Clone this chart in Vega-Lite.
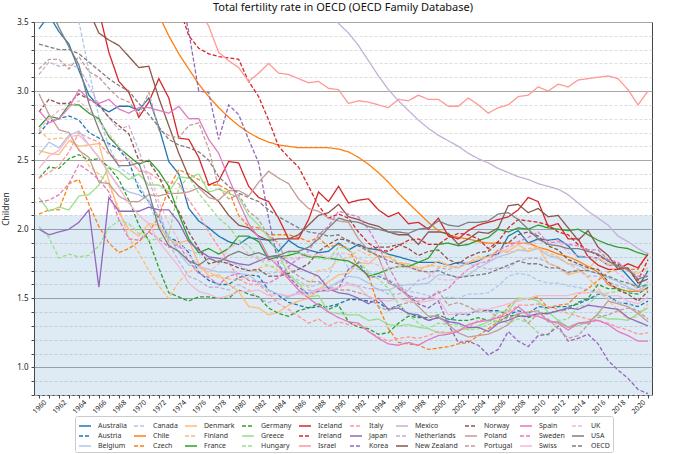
{
  "$schema": "https://vega.github.io/schema/vega-lite/v6.json",
  "width": 618,
  "height": 373,
  "autosize": {"type": "none"},
  "padding": {"left": 34, "top": 22, "right": 28, "bottom": 59},
  "title": {"text": "Total fertility rate in OECD (OECD Family Database)", "fontSize": 11, "font": "Noto Sans", "fontWeight": "normal", "color": "#111", "offset": 5},
  "config": {
    "font": "Noto Sans",
    "view": {"stroke": "#444", "strokeWidth": 1},
    "axis": {"labelFont": "Noto Sans", "titleFont": "Noto Sans", "labelColor": "#222", "titleColor": "#222", "tickColor": "#444", "domainColor": "#444"}
  },
  "data": {"values": [
    {"c":"Australia","t":1960,"v":3.45},{"c":"Australia","t":1961,"v":3.55},{"c":"Australia","t":1962,"v":3.43},{"c":"Australia","t":1963,"v":3.34},{"c":"Australia","t":1964,"v":3.15},{"c":"Australia","t":1965,"v":2.97},{"c":"Australia","t":1966,"v":2.89},{"c":"Australia","t":1967,"v":2.85},{"c":"Australia","t":1968,"v":2.89},{"c":"Australia","t":1969,"v":2.89},
    {"c":"Australia","t":1970,"v":2.86},{"c":"Australia","t":1971,"v":2.95},{"c":"Australia","t":1972,"v":2.74},{"c":"Australia","t":1973,"v":2.49},{"c":"Australia","t":1974,"v":2.40},{"c":"Australia","t":1975,"v":2.15},{"c":"Australia","t":1976,"v":2.06},{"c":"Australia","t":1977,"v":2.01},{"c":"Australia","t":1978,"v":1.95},{"c":"Australia","t":1979,"v":1.91},
    {"c":"Australia","t":1980,"v":1.89},{"c":"Australia","t":1981,"v":1.94},{"c":"Australia","t":1982,"v":1.93},{"c":"Australia","t":1983,"v":1.92},{"c":"Australia","t":1984,"v":1.84},{"c":"Australia","t":1985,"v":1.92},{"c":"Australia","t":1986,"v":1.87},{"c":"Australia","t":1987,"v":1.85},{"c":"Australia","t":1988,"v":1.83},{"c":"Australia","t":1989,"v":1.84},
    {"c":"Australia","t":1990,"v":1.90},{"c":"Australia","t":1991,"v":1.85},{"c":"Australia","t":1992,"v":1.89},{"c":"Australia","t":1993,"v":1.86},{"c":"Australia","t":1994,"v":1.85},{"c":"Australia","t":1995,"v":1.82},{"c":"Australia","t":1996,"v":1.80},{"c":"Australia","t":1997,"v":1.78},{"c":"Australia","t":1998,"v":1.76},{"c":"Australia","t":1999,"v":1.76},
    {"c":"Australia","t":2000,"v":1.76},{"c":"Australia","t":2001,"v":1.74},{"c":"Australia","t":2002,"v":1.76},{"c":"Australia","t":2003,"v":1.75},{"c":"Australia","t":2004,"v":1.77},{"c":"Australia","t":2005,"v":1.81},{"c":"Australia","t":2006,"v":1.82},{"c":"Australia","t":2007,"v":1.95},{"c":"Australia","t":2008,"v":1.99},{"c":"Australia","t":2009,"v":1.90},
    {"c":"Australia","t":2010,"v":1.93},{"c":"Australia","t":2011,"v":1.92},{"c":"Australia","t":2012,"v":1.93},{"c":"Australia","t":2013,"v":1.88},{"c":"Australia","t":2014,"v":1.80},{"c":"Australia","t":2015,"v":1.80},{"c":"Australia","t":2016,"v":1.79},{"c":"Australia","t":2017,"v":1.74},{"c":"Australia","t":2018,"v":1.74},{"c":"Australia","t":2019,"v":1.66},
    {"c":"Australia","t":2020,"v":1.58},{"c":"Australia","t":2021,"v":1.70},

    {"c":"Austria","t":1960,"v":2.69},{"c":"Austria","t":1961,"v":2.78},{"c":"Austria","t":1962,"v":2.80},{"c":"Austria","t":1963,"v":2.82},{"c":"Austria","t":1964,"v":2.79},{"c":"Austria","t":1965,"v":2.70},{"c":"Austria","t":1966,"v":2.66},{"c":"Austria","t":1967,"v":2.62},{"c":"Austria","t":1968,"v":2.58},{"c":"Austria","t":1969,"v":2.49},
    {"c":"Austria","t":1970,"v":2.29},{"c":"Austria","t":1971,"v":2.20},{"c":"Austria","t":1972,"v":2.08},{"c":"Austria","t":1973,"v":1.94},{"c":"Austria","t":1974,"v":1.91},{"c":"Austria","t":1975,"v":1.83},{"c":"Austria","t":1976,"v":1.69},{"c":"Austria","t":1977,"v":1.63},{"c":"Austria","t":1978,"v":1.60},{"c":"Austria","t":1979,"v":1.60},
    {"c":"Austria","t":1980,"v":1.65},{"c":"Austria","t":1981,"v":1.67},{"c":"Austria","t":1982,"v":1.66},{"c":"Austria","t":1983,"v":1.56},{"c":"Austria","t":1984,"v":1.52},{"c":"Austria","t":1985,"v":1.47},{"c":"Austria","t":1986,"v":1.45},{"c":"Austria","t":1987,"v":1.43},{"c":"Austria","t":1988,"v":1.44},{"c":"Austria","t":1989,"v":1.44},
    {"c":"Austria","t":1990,"v":1.46},{"c":"Austria","t":1991,"v":1.49},{"c":"Austria","t":1992,"v":1.49},{"c":"Austria","t":1993,"v":1.48},{"c":"Austria","t":1994,"v":1.47},{"c":"Austria","t":1995,"v":1.42},{"c":"Austria","t":1996,"v":1.45},{"c":"Austria","t":1997,"v":1.39},{"c":"Austria","t":1998,"v":1.37},{"c":"Austria","t":1999,"v":1.34},
    {"c":"Austria","t":2000,"v":1.36},{"c":"Austria","t":2001,"v":1.33},{"c":"Austria","t":2002,"v":1.39},{"c":"Austria","t":2003,"v":1.38},{"c":"Austria","t":2004,"v":1.42},{"c":"Austria","t":2005,"v":1.41},{"c":"Austria","t":2006,"v":1.41},{"c":"Austria","t":2007,"v":1.38},{"c":"Austria","t":2008,"v":1.41},{"c":"Austria","t":2009,"v":1.39},
    {"c":"Austria","t":2010,"v":1.44},{"c":"Austria","t":2011,"v":1.43},{"c":"Austria","t":2012,"v":1.44},{"c":"Austria","t":2013,"v":1.44},{"c":"Austria","t":2014,"v":1.46},{"c":"Austria","t":2015,"v":1.49},{"c":"Austria","t":2016,"v":1.53},{"c":"Austria","t":2017,"v":1.52},{"c":"Austria","t":2018,"v":1.47},{"c":"Austria","t":2019,"v":1.46},
    {"c":"Austria","t":2020,"v":1.44},{"c":"Austria","t":2021,"v":1.48},

    {"c":"Belgium","t":1960,"v":2.54},{"c":"Belgium","t":1961,"v":2.63},{"c":"Belgium","t":1962,"v":2.59},{"c":"Belgium","t":1963,"v":2.68},{"c":"Belgium","t":1964,"v":2.71},{"c":"Belgium","t":1965,"v":2.61},{"c":"Belgium","t":1966,"v":2.52},{"c":"Belgium","t":1967,"v":2.41},{"c":"Belgium","t":1968,"v":2.31},{"c":"Belgium","t":1969,"v":2.27},
    {"c":"Belgium","t":1970,"v":2.25},{"c":"Belgium","t":1971,"v":2.21},{"c":"Belgium","t":1972,"v":2.09},{"c":"Belgium","t":1973,"v":1.95},{"c":"Belgium","t":1974,"v":1.83},{"c":"Belgium","t":1975,"v":1.74},{"c":"Belgium","t":1976,"v":1.73},{"c":"Belgium","t":1977,"v":1.71},{"c":"Belgium","t":1978,"v":1.69},{"c":"Belgium","t":1979,"v":1.69},
    {"c":"Belgium","t":1980,"v":1.68},{"c":"Belgium","t":1981,"v":1.67},{"c":"Belgium","t":1982,"v":1.61},{"c":"Belgium","t":1983,"v":1.56},{"c":"Belgium","t":1984,"v":1.53},{"c":"Belgium","t":1985,"v":1.51},{"c":"Belgium","t":1986,"v":1.54},{"c":"Belgium","t":1987,"v":1.54},{"c":"Belgium","t":1988,"v":1.57},{"c":"Belgium","t":1989,"v":1.58},
    {"c":"Belgium","t":1990,"v":1.62},{"c":"Belgium","t":1991,"v":1.66},{"c":"Belgium","t":1992,"v":1.65},{"c":"Belgium","t":1993,"v":1.61},{"c":"Belgium","t":1994,"v":1.56},{"c":"Belgium","t":1995,"v":1.56},{"c":"Belgium","t":1996,"v":1.59},{"c":"Belgium","t":1997,"v":1.60},{"c":"Belgium","t":1998,"v":1.60},{"c":"Belgium","t":1999,"v":1.61},
    {"c":"Belgium","t":2000,"v":1.67},{"c":"Belgium","t":2001,"v":1.67},{"c":"Belgium","t":2002,"v":1.65},{"c":"Belgium","t":2003,"v":1.67},{"c":"Belgium","t":2004,"v":1.72},{"c":"Belgium","t":2005,"v":1.76},{"c":"Belgium","t":2006,"v":1.80},{"c":"Belgium","t":2007,"v":1.82},{"c":"Belgium","t":2008,"v":1.85},{"c":"Belgium","t":2009,"v":1.84},
    {"c":"Belgium","t":2010,"v":1.86},{"c":"Belgium","t":2011,"v":1.81},{"c":"Belgium","t":2012,"v":1.79},{"c":"Belgium","t":2013,"v":1.75},{"c":"Belgium","t":2014,"v":1.74},{"c":"Belgium","t":2015,"v":1.70},{"c":"Belgium","t":2016,"v":1.68},{"c":"Belgium","t":2017,"v":1.65},{"c":"Belgium","t":2018,"v":1.62},{"c":"Belgium","t":2019,"v":1.58},
    {"c":"Belgium","t":2020,"v":1.55},{"c":"Belgium","t":2021,"v":1.60},

    {"c":"Canada","t":1960,"v":3.81},{"c":"Canada","t":1961,"v":3.84},{"c":"Canada","t":1962,"v":3.76},{"c":"Canada","t":1963,"v":3.67},{"c":"Canada","t":1964,"v":3.50},{"c":"Canada","t":1965,"v":3.15},{"c":"Canada","t":1966,"v":2.81},{"c":"Canada","t":1967,"v":2.60},{"c":"Canada","t":1968,"v":2.45},{"c":"Canada","t":1969,"v":2.40},
    {"c":"Canada","t":1970,"v":2.33},{"c":"Canada","t":1971,"v":2.19},{"c":"Canada","t":1972,"v":2.02},{"c":"Canada","t":1973,"v":1.93},{"c":"Canada","t":1974,"v":1.87},{"c":"Canada","t":1975,"v":1.85},{"c":"Canada","t":1976,"v":1.82},{"c":"Canada","t":1977,"v":1.80},{"c":"Canada","t":1978,"v":1.76},{"c":"Canada","t":1979,"v":1.76},
    {"c":"Canada","t":1980,"v":1.74},{"c":"Canada","t":1981,"v":1.70},{"c":"Canada","t":1982,"v":1.69},{"c":"Canada","t":1983,"v":1.68},{"c":"Canada","t":1984,"v":1.69},{"c":"Canada","t":1985,"v":1.67},{"c":"Canada","t":1986,"v":1.63},{"c":"Canada","t":1987,"v":1.58},{"c":"Canada","t":1988,"v":1.60},{"c":"Canada","t":1989,"v":1.66},
    {"c":"Canada","t":1990,"v":1.83},{"c":"Canada","t":1991,"v":1.72},{"c":"Canada","t":1992,"v":1.71},{"c":"Canada","t":1993,"v":1.68},{"c":"Canada","t":1994,"v":1.68},{"c":"Canada","t":1995,"v":1.64},{"c":"Canada","t":1996,"v":1.59},{"c":"Canada","t":1997,"v":1.55},{"c":"Canada","t":1998,"v":1.54},{"c":"Canada","t":1999,"v":1.52},
    {"c":"Canada","t":2000,"v":1.49},{"c":"Canada","t":2001,"v":1.51},{"c":"Canada","t":2002,"v":1.50},{"c":"Canada","t":2003,"v":1.53},{"c":"Canada","t":2004,"v":1.53},{"c":"Canada","t":2005,"v":1.54},{"c":"Canada","t":2006,"v":1.59},{"c":"Canada","t":2007,"v":1.66},{"c":"Canada","t":2008,"v":1.68},{"c":"Canada","t":2009,"v":1.67},
    {"c":"Canada","t":2010,"v":1.63},{"c":"Canada","t":2011,"v":1.61},{"c":"Canada","t":2012,"v":1.61},{"c":"Canada","t":2013,"v":1.59},{"c":"Canada","t":2014,"v":1.58},{"c":"Canada","t":2015,"v":1.56},{"c":"Canada","t":2016,"v":1.54},{"c":"Canada","t":2017,"v":1.50},{"c":"Canada","t":2018,"v":1.47},{"c":"Canada","t":2019,"v":1.47},
    {"c":"Canada","t":2020,"v":1.40},{"c":"Canada","t":2021,"v":1.43},

    {"c":"Chile","t":1965,"v":4.96},{"c":"Chile","t":1966,"v":4.75},{"c":"Chile","t":1967,"v":4.52},{"c":"Chile","t":1968,"v":4.29},{"c":"Chile","t":1969,"v":4.07},
    {"c":"Chile","t":1970,"v":3.88},{"c":"Chile","t":1971,"v":3.71},{"c":"Chile","t":1972,"v":3.55},{"c":"Chile","t":1973,"v":3.40},{"c":"Chile","t":1974,"v":3.27},{"c":"Chile","t":1975,"v":3.16},{"c":"Chile","t":1976,"v":3.05},{"c":"Chile","t":1977,"v":2.96},{"c":"Chile","t":1978,"v":2.88},{"c":"Chile","t":1979,"v":2.81},
    {"c":"Chile","t":1980,"v":2.75},{"c":"Chile","t":1981,"v":2.70},{"c":"Chile","t":1982,"v":2.66},{"c":"Chile","t":1983,"v":2.63},{"c":"Chile","t":1984,"v":2.61},{"c":"Chile","t":1985,"v":2.60},{"c":"Chile","t":1986,"v":2.59},{"c":"Chile","t":1987,"v":2.59},{"c":"Chile","t":1988,"v":2.59},{"c":"Chile","t":1989,"v":2.59},
    {"c":"Chile","t":1990,"v":2.58},{"c":"Chile","t":1991,"v":2.56},{"c":"Chile","t":1992,"v":2.52},{"c":"Chile","t":1993,"v":2.47},{"c":"Chile","t":1994,"v":2.41},{"c":"Chile","t":1995,"v":2.34},{"c":"Chile","t":1996,"v":2.26},{"c":"Chile","t":1997,"v":2.19},{"c":"Chile","t":1998,"v":2.12},{"c":"Chile","t":1999,"v":2.05},
    {"c":"Chile","t":2000,"v":1.99},{"c":"Chile","t":2001,"v":1.96},{"c":"Chile","t":2002,"v":1.94},{"c":"Chile","t":2003,"v":1.93},{"c":"Chile","t":2004,"v":1.91},{"c":"Chile","t":2005,"v":1.90},{"c":"Chile","t":2006,"v":1.90},{"c":"Chile","t":2007,"v":1.90},{"c":"Chile","t":2008,"v":1.90},{"c":"Chile","t":2009,"v":1.90},
    {"c":"Chile","t":2010,"v":1.87},{"c":"Chile","t":2011,"v":1.85},{"c":"Chile","t":2012,"v":1.82},{"c":"Chile","t":2013,"v":1.80},{"c":"Chile","t":2014,"v":1.77},{"c":"Chile","t":2015,"v":1.73},{"c":"Chile","t":2016,"v":1.69},{"c":"Chile","t":2017,"v":1.60},{"c":"Chile","t":2018,"v":1.57},{"c":"Chile","t":2019,"v":1.55},
    {"c":"Chile","t":2020,"v":1.55},{"c":"Chile","t":2021,"v":1.57},

    {"c":"Czech","t":1960,"v":2.11},{"c":"Czech","t":1961,"v":2.14},{"c":"Czech","t":1962,"v":2.14},{"c":"Czech","t":1963,"v":2.33},{"c":"Czech","t":1964,"v":2.36},{"c":"Czech","t":1965,"v":2.18},{"c":"Czech","t":1966,"v":2.02},{"c":"Czech","t":1967,"v":1.90},{"c":"Czech","t":1968,"v":1.83},{"c":"Czech","t":1969,"v":1.86},
    {"c":"Czech","t":1970,"v":1.91},{"c":"Czech","t":1971,"v":1.98},{"c":"Czech","t":1972,"v":2.09},{"c":"Czech","t":1973,"v":2.30},{"c":"Czech","t":1974,"v":2.43},{"c":"Czech","t":1975,"v":2.40},{"c":"Czech","t":1976,"v":2.36},{"c":"Czech","t":1977,"v":2.32},{"c":"Czech","t":1978,"v":2.32},{"c":"Czech","t":1979,"v":2.28},
    {"c":"Czech","t":1980,"v":2.10},{"c":"Czech","t":1981,"v":2.02},{"c":"Czech","t":1982,"v":2.01},{"c":"Czech","t":1983,"v":1.96},{"c":"Czech","t":1984,"v":1.96},{"c":"Czech","t":1985,"v":1.96},{"c":"Czech","t":1986,"v":1.94},{"c":"Czech","t":1987,"v":1.91},{"c":"Czech","t":1988,"v":1.94},{"c":"Czech","t":1989,"v":1.87},
    {"c":"Czech","t":1990,"v":1.89},{"c":"Czech","t":1991,"v":1.86},{"c":"Czech","t":1992,"v":1.72},{"c":"Czech","t":1993,"v":1.67},{"c":"Czech","t":1994,"v":1.44},{"c":"Czech","t":1995,"v":1.28},{"c":"Czech","t":1996,"v":1.18},{"c":"Czech","t":1997,"v":1.17},{"c":"Czech","t":1998,"v":1.16},{"c":"Czech","t":1999,"v":1.13},
    {"c":"Czech","t":2000,"v":1.14},{"c":"Czech","t":2001,"v":1.15},{"c":"Czech","t":2002,"v":1.17},{"c":"Czech","t":2003,"v":1.18},{"c":"Czech","t":2004,"v":1.23},{"c":"Czech","t":2005,"v":1.28},{"c":"Czech","t":2006,"v":1.33},{"c":"Czech","t":2007,"v":1.44},{"c":"Czech","t":2008,"v":1.50},{"c":"Czech","t":2009,"v":1.49},
    {"c":"Czech","t":2010,"v":1.51},{"c":"Czech","t":2011,"v":1.43},{"c":"Czech","t":2012,"v":1.45},{"c":"Czech","t":2013,"v":1.46},{"c":"Czech","t":2014,"v":1.53},{"c":"Czech","t":2015,"v":1.57},{"c":"Czech","t":2016,"v":1.63},{"c":"Czech","t":2017,"v":1.69},{"c":"Czech","t":2018,"v":1.71},{"c":"Czech","t":2019,"v":1.71},
    {"c":"Czech","t":2020,"v":1.71},{"c":"Czech","t":2021,"v":1.83},

    {"c":"Denmark","t":1960,"v":2.57},{"c":"Denmark","t":1961,"v":2.55},{"c":"Denmark","t":1962,"v":2.54},{"c":"Denmark","t":1963,"v":2.64},{"c":"Denmark","t":1964,"v":2.60},{"c":"Denmark","t":1965,"v":2.61},{"c":"Denmark","t":1966,"v":2.62},{"c":"Denmark","t":1967,"v":2.35},{"c":"Denmark","t":1968,"v":2.12},{"c":"Denmark","t":1969,"v":2.00},
    {"c":"Denmark","t":1970,"v":1.95},{"c":"Denmark","t":1971,"v":2.04},{"c":"Denmark","t":1972,"v":2.03},{"c":"Denmark","t":1973,"v":1.92},{"c":"Denmark","t":1974,"v":1.90},{"c":"Denmark","t":1975,"v":1.92},{"c":"Denmark","t":1976,"v":1.75},{"c":"Denmark","t":1977,"v":1.66},{"c":"Denmark","t":1978,"v":1.67},{"c":"Denmark","t":1979,"v":1.60},
    {"c":"Denmark","t":1980,"v":1.55},{"c":"Denmark","t":1981,"v":1.44},{"c":"Denmark","t":1982,"v":1.43},{"c":"Denmark","t":1983,"v":1.38},{"c":"Denmark","t":1984,"v":1.40},{"c":"Denmark","t":1985,"v":1.45},{"c":"Denmark","t":1986,"v":1.48},{"c":"Denmark","t":1987,"v":1.50},{"c":"Denmark","t":1988,"v":1.56},{"c":"Denmark","t":1989,"v":1.62},
    {"c":"Denmark","t":1990,"v":1.67},{"c":"Denmark","t":1991,"v":1.68},{"c":"Denmark","t":1992,"v":1.76},{"c":"Denmark","t":1993,"v":1.75},{"c":"Denmark","t":1994,"v":1.81},{"c":"Denmark","t":1995,"v":1.80},{"c":"Denmark","t":1996,"v":1.75},{"c":"Denmark","t":1997,"v":1.75},{"c":"Denmark","t":1998,"v":1.72},{"c":"Denmark","t":1999,"v":1.73},
    {"c":"Denmark","t":2000,"v":1.77},{"c":"Denmark","t":2001,"v":1.74},{"c":"Denmark","t":2002,"v":1.72},{"c":"Denmark","t":2003,"v":1.76},{"c":"Denmark","t":2004,"v":1.78},{"c":"Denmark","t":2005,"v":1.80},{"c":"Denmark","t":2006,"v":1.85},{"c":"Denmark","t":2007,"v":1.84},{"c":"Denmark","t":2008,"v":1.89},{"c":"Denmark","t":2009,"v":1.84},
    {"c":"Denmark","t":2010,"v":1.87},{"c":"Denmark","t":2011,"v":1.75},{"c":"Denmark","t":2012,"v":1.73},{"c":"Denmark","t":2013,"v":1.67},{"c":"Denmark","t":2014,"v":1.69},{"c":"Denmark","t":2015,"v":1.71},{"c":"Denmark","t":2016,"v":1.79},{"c":"Denmark","t":2017,"v":1.75},{"c":"Denmark","t":2018,"v":1.73},{"c":"Denmark","t":2019,"v":1.70},
    {"c":"Denmark","t":2020,"v":1.68},{"c":"Denmark","t":2021,"v":1.72},

    {"c":"Finland","t":1960,"v":2.72},{"c":"Finland","t":1961,"v":2.65},{"c":"Finland","t":1962,"v":2.66},{"c":"Finland","t":1963,"v":2.66},{"c":"Finland","t":1964,"v":2.58},{"c":"Finland","t":1965,"v":2.46},{"c":"Finland","t":1966,"v":2.40},{"c":"Finland","t":1967,"v":2.32},{"c":"Finland","t":1968,"v":2.15},{"c":"Finland","t":1969,"v":1.94},
    {"c":"Finland","t":1970,"v":1.83},{"c":"Finland","t":1971,"v":1.70},{"c":"Finland","t":1972,"v":1.59},{"c":"Finland","t":1973,"v":1.50},{"c":"Finland","t":1974,"v":1.62},{"c":"Finland","t":1975,"v":1.69},{"c":"Finland","t":1976,"v":1.72},{"c":"Finland","t":1977,"v":1.69},{"c":"Finland","t":1978,"v":1.65},{"c":"Finland","t":1979,"v":1.64},
    {"c":"Finland","t":1980,"v":1.63},{"c":"Finland","t":1981,"v":1.65},{"c":"Finland","t":1982,"v":1.72},{"c":"Finland","t":1983,"v":1.74},{"c":"Finland","t":1984,"v":1.70},{"c":"Finland","t":1985,"v":1.64},{"c":"Finland","t":1986,"v":1.60},{"c":"Finland","t":1987,"v":1.59},{"c":"Finland","t":1988,"v":1.70},{"c":"Finland","t":1989,"v":1.71},
    {"c":"Finland","t":1990,"v":1.78},{"c":"Finland","t":1991,"v":1.79},{"c":"Finland","t":1992,"v":1.85},{"c":"Finland","t":1993,"v":1.81},{"c":"Finland","t":1994,"v":1.85},{"c":"Finland","t":1995,"v":1.81},{"c":"Finland","t":1996,"v":1.76},{"c":"Finland","t":1997,"v":1.75},{"c":"Finland","t":1998,"v":1.70},{"c":"Finland","t":1999,"v":1.74},
    {"c":"Finland","t":2000,"v":1.73},{"c":"Finland","t":2001,"v":1.73},{"c":"Finland","t":2002,"v":1.72},{"c":"Finland","t":2003,"v":1.76},{"c":"Finland","t":2004,"v":1.80},{"c":"Finland","t":2005,"v":1.80},{"c":"Finland","t":2006,"v":1.84},{"c":"Finland","t":2007,"v":1.83},{"c":"Finland","t":2008,"v":1.85},{"c":"Finland","t":2009,"v":1.86},
    {"c":"Finland","t":2010,"v":1.87},{"c":"Finland","t":2011,"v":1.83},{"c":"Finland","t":2012,"v":1.80},{"c":"Finland","t":2013,"v":1.75},{"c":"Finland","t":2014,"v":1.71},{"c":"Finland","t":2015,"v":1.65},{"c":"Finland","t":2016,"v":1.57},{"c":"Finland","t":2017,"v":1.49},{"c":"Finland","t":2018,"v":1.41},{"c":"Finland","t":2019,"v":1.35},
    {"c":"Finland","t":2020,"v":1.37},{"c":"Finland","t":2021,"v":1.46},

    {"c":"France","t":1960,"v":2.74},{"c":"France","t":1961,"v":2.82},{"c":"France","t":1962,"v":2.80},{"c":"France","t":1963,"v":2.90},{"c":"France","t":1964,"v":2.90},{"c":"France","t":1965,"v":2.84},{"c":"France","t":1966,"v":2.80},{"c":"France","t":1967,"v":2.67},{"c":"France","t":1968,"v":2.59},{"c":"France","t":1969,"v":2.53},
    {"c":"France","t":1970,"v":2.47},{"c":"France","t":1971,"v":2.50},{"c":"France","t":1972,"v":2.42},{"c":"France","t":1973,"v":2.31},{"c":"France","t":1974,"v":2.11},{"c":"France","t":1975,"v":1.93},{"c":"France","t":1976,"v":1.83},{"c":"France","t":1977,"v":1.86},{"c":"France","t":1978,"v":1.82},{"c":"France","t":1979,"v":1.86},
    {"c":"France","t":1980,"v":1.95},{"c":"France","t":1981,"v":1.95},{"c":"France","t":1982,"v":1.91},{"c":"France","t":1983,"v":1.78},{"c":"France","t":1984,"v":1.80},{"c":"France","t":1985,"v":1.81},{"c":"France","t":1986,"v":1.83},{"c":"France","t":1987,"v":1.80},{"c":"France","t":1988,"v":1.80},{"c":"France","t":1989,"v":1.79},
    {"c":"France","t":1990,"v":1.78},{"c":"France","t":1991,"v":1.77},{"c":"France","t":1992,"v":1.73},{"c":"France","t":1993,"v":1.66},{"c":"France","t":1994,"v":1.68},{"c":"France","t":1995,"v":1.71},{"c":"France","t":1996,"v":1.73},{"c":"France","t":1997,"v":1.73},{"c":"France","t":1998,"v":1.76},{"c":"France","t":1999,"v":1.79},
    {"c":"France","t":2000,"v":1.89},{"c":"France","t":2001,"v":1.90},{"c":"France","t":2002,"v":1.88},{"c":"France","t":2003,"v":1.89},{"c":"France","t":2004,"v":1.92},{"c":"France","t":2005,"v":1.94},{"c":"France","t":2006,"v":2.00},{"c":"France","t":2007,"v":1.98},{"c":"France","t":2008,"v":2.01},{"c":"France","t":2009,"v":2.00},
    {"c":"France","t":2010,"v":2.03},{"c":"France","t":2011,"v":2.01},{"c":"France","t":2012,"v":2.00},{"c":"France","t":2013,"v":1.99},{"c":"France","t":2014,"v":2.00},{"c":"France","t":2015,"v":1.96},{"c":"France","t":2016,"v":1.92},{"c":"France","t":2017,"v":1.89},{"c":"France","t":2018,"v":1.87},{"c":"France","t":2019,"v":1.86},
    {"c":"France","t":2020,"v":1.83},{"c":"France","t":2021,"v":1.81},

    {"c":"Germany","t":1960,"v":2.37},{"c":"Germany","t":1961,"v":2.45},{"c":"Germany","t":1962,"v":2.44},{"c":"Germany","t":1963,"v":2.51},{"c":"Germany","t":1964,"v":2.54},{"c":"Germany","t":1965,"v":2.50},{"c":"Germany","t":1966,"v":2.51},{"c":"Germany","t":1967,"v":2.45},{"c":"Germany","t":1968,"v":2.36},{"c":"Germany","t":1969,"v":2.21},
    {"c":"Germany","t":1970,"v":2.03},{"c":"Germany","t":1971,"v":1.92},{"c":"Germany","t":1972,"v":1.72},{"c":"Germany","t":1973,"v":1.54},{"c":"Germany","t":1974,"v":1.51},{"c":"Germany","t":1975,"v":1.48},{"c":"Germany","t":1976,"v":1.51},{"c":"Germany","t":1977,"v":1.51},{"c":"Germany","t":1978,"v":1.50},{"c":"Germany","t":1979,"v":1.50},
    {"c":"Germany","t":1980,"v":1.56},{"c":"Germany","t":1981,"v":1.53},{"c":"Germany","t":1982,"v":1.51},{"c":"Germany","t":1983,"v":1.43},{"c":"Germany","t":1984,"v":1.39},{"c":"Germany","t":1985,"v":1.37},{"c":"Germany","t":1986,"v":1.41},{"c":"Germany","t":1987,"v":1.43},{"c":"Germany","t":1988,"v":1.46},{"c":"Germany","t":1989,"v":1.42},
    {"c":"Germany","t":1990,"v":1.45},{"c":"Germany","t":1991,"v":1.33},{"c":"Germany","t":1992,"v":1.29},{"c":"Germany","t":1993,"v":1.28},{"c":"Germany","t":1994,"v":1.24},{"c":"Germany","t":1995,"v":1.25},{"c":"Germany","t":1996,"v":1.32},{"c":"Germany","t":1997,"v":1.37},{"c":"Germany","t":1998,"v":1.36},{"c":"Germany","t":1999,"v":1.36},
    {"c":"Germany","t":2000,"v":1.38},{"c":"Germany","t":2001,"v":1.35},{"c":"Germany","t":2002,"v":1.34},{"c":"Germany","t":2003,"v":1.34},{"c":"Germany","t":2004,"v":1.36},{"c":"Germany","t":2005,"v":1.34},{"c":"Germany","t":2006,"v":1.33},{"c":"Germany","t":2007,"v":1.37},{"c":"Germany","t":2008,"v":1.38},{"c":"Germany","t":2009,"v":1.36},
    {"c":"Germany","t":2010,"v":1.39},{"c":"Germany","t":2011,"v":1.39},{"c":"Germany","t":2012,"v":1.41},{"c":"Germany","t":2013,"v":1.42},{"c":"Germany","t":2014,"v":1.47},{"c":"Germany","t":2015,"v":1.50},{"c":"Germany","t":2016,"v":1.60},{"c":"Germany","t":2017,"v":1.57},{"c":"Germany","t":2018,"v":1.57},{"c":"Germany","t":2019,"v":1.54},
    {"c":"Germany","t":2020,"v":1.53},{"c":"Germany","t":2021,"v":1.58},

    {"c":"Greece","t":1960,"v":2.23},{"c":"Greece","t":1961,"v":2.13},{"c":"Greece","t":1962,"v":2.16},{"c":"Greece","t":1963,"v":2.14},{"c":"Greece","t":1964,"v":2.24},{"c":"Greece","t":1965,"v":2.25},{"c":"Greece","t":1966,"v":2.32},{"c":"Greece","t":1967,"v":2.45},{"c":"Greece","t":1968,"v":2.42},{"c":"Greece","t":1969,"v":2.36},
    {"c":"Greece","t":1970,"v":2.40},{"c":"Greece","t":1971,"v":2.32},{"c":"Greece","t":1972,"v":2.32},{"c":"Greece","t":1973,"v":2.27},{"c":"Greece","t":1974,"v":2.38},{"c":"Greece","t":1975,"v":2.37},{"c":"Greece","t":1976,"v":2.40},{"c":"Greece","t":1977,"v":2.27},{"c":"Greece","t":1978,"v":2.29},{"c":"Greece","t":1979,"v":2.26},
    {"c":"Greece","t":1980,"v":2.23},{"c":"Greece","t":1981,"v":2.10},{"c":"Greece","t":1982,"v":2.03},{"c":"Greece","t":1983,"v":1.94},{"c":"Greece","t":1984,"v":1.82},{"c":"Greece","t":1985,"v":1.67},{"c":"Greece","t":1986,"v":1.61},{"c":"Greece","t":1987,"v":1.51},{"c":"Greece","t":1988,"v":1.52},{"c":"Greece","t":1989,"v":1.40},
    {"c":"Greece","t":1990,"v":1.39},{"c":"Greece","t":1991,"v":1.38},{"c":"Greece","t":1992,"v":1.38},{"c":"Greece","t":1993,"v":1.34},{"c":"Greece","t":1994,"v":1.35},{"c":"Greece","t":1995,"v":1.31},{"c":"Greece","t":1996,"v":1.30},{"c":"Greece","t":1997,"v":1.31},{"c":"Greece","t":1998,"v":1.29},{"c":"Greece","t":1999,"v":1.28},
    {"c":"Greece","t":2000,"v":1.25},{"c":"Greece","t":2001,"v":1.25},{"c":"Greece","t":2002,"v":1.27},{"c":"Greece","t":2003,"v":1.28},{"c":"Greece","t":2004,"v":1.30},{"c":"Greece","t":2005,"v":1.33},{"c":"Greece","t":2006,"v":1.40},{"c":"Greece","t":2007,"v":1.41},{"c":"Greece","t":2008,"v":1.50},{"c":"Greece","t":2009,"v":1.50},
    {"c":"Greece","t":2010,"v":1.48},{"c":"Greece","t":2011,"v":1.40},{"c":"Greece","t":2012,"v":1.34},{"c":"Greece","t":2013,"v":1.29},{"c":"Greece","t":2014,"v":1.30},{"c":"Greece","t":2015,"v":1.33},{"c":"Greece","t":2016,"v":1.38},{"c":"Greece","t":2017,"v":1.35},{"c":"Greece","t":2018,"v":1.35},{"c":"Greece","t":2019,"v":1.34},
    {"c":"Greece","t":2020,"v":1.39},{"c":"Greece","t":2021,"v":1.43},

    {"c":"Hungary","t":1960,"v":2.02},{"c":"Hungary","t":1961,"v":1.94},{"c":"Hungary","t":1962,"v":1.79},{"c":"Hungary","t":1963,"v":1.82},{"c":"Hungary","t":1964,"v":1.80},{"c":"Hungary","t":1965,"v":1.81},{"c":"Hungary","t":1966,"v":1.88},{"c":"Hungary","t":1967,"v":2.01},{"c":"Hungary","t":1968,"v":2.06},{"c":"Hungary","t":1969,"v":2.04},
    {"c":"Hungary","t":1970,"v":1.97},{"c":"Hungary","t":1971,"v":1.92},{"c":"Hungary","t":1972,"v":1.93},{"c":"Hungary","t":1973,"v":1.95},{"c":"Hungary","t":1974,"v":2.30},{"c":"Hungary","t":1975,"v":2.38},{"c":"Hungary","t":1976,"v":2.26},{"c":"Hungary","t":1977,"v":2.17},{"c":"Hungary","t":1978,"v":2.08},{"c":"Hungary","t":1979,"v":2.02},
    {"c":"Hungary","t":1980,"v":1.92},{"c":"Hungary","t":1981,"v":1.88},{"c":"Hungary","t":1982,"v":1.79},{"c":"Hungary","t":1983,"v":1.73},{"c":"Hungary","t":1984,"v":1.73},{"c":"Hungary","t":1985,"v":1.83},{"c":"Hungary","t":1986,"v":1.83},{"c":"Hungary","t":1987,"v":1.81},{"c":"Hungary","t":1988,"v":1.79},{"c":"Hungary","t":1989,"v":1.78},
    {"c":"Hungary","t":1990,"v":1.87},{"c":"Hungary","t":1991,"v":1.86},{"c":"Hungary","t":1992,"v":1.77},{"c":"Hungary","t":1993,"v":1.69},{"c":"Hungary","t":1994,"v":1.64},{"c":"Hungary","t":1995,"v":1.57},{"c":"Hungary","t":1996,"v":1.46},{"c":"Hungary","t":1997,"v":1.38},{"c":"Hungary","t":1998,"v":1.32},{"c":"Hungary","t":1999,"v":1.28},
    {"c":"Hungary","t":2000,"v":1.32},{"c":"Hungary","t":2001,"v":1.31},{"c":"Hungary","t":2002,"v":1.31},{"c":"Hungary","t":2003,"v":1.27},{"c":"Hungary","t":2004,"v":1.28},{"c":"Hungary","t":2005,"v":1.31},{"c":"Hungary","t":2006,"v":1.34},{"c":"Hungary","t":2007,"v":1.32},{"c":"Hungary","t":2008,"v":1.35},{"c":"Hungary","t":2009,"v":1.32},
    {"c":"Hungary","t":2010,"v":1.25},{"c":"Hungary","t":2011,"v":1.23},{"c":"Hungary","t":2012,"v":1.34},{"c":"Hungary","t":2013,"v":1.35},{"c":"Hungary","t":2014,"v":1.44},{"c":"Hungary","t":2015,"v":1.45},{"c":"Hungary","t":2016,"v":1.53},{"c":"Hungary","t":2017,"v":1.54},{"c":"Hungary","t":2018,"v":1.55},{"c":"Hungary","t":2019,"v":1.55},
    {"c":"Hungary","t":2020,"v":1.59},{"c":"Hungary","t":2021,"v":1.59},

    {"c":"Iceland","t":1960,"v":4.27},{"c":"Iceland","t":1961,"v":3.88},{"c":"Iceland","t":1962,"v":3.98},{"c":"Iceland","t":1963,"v":3.98},{"c":"Iceland","t":1964,"v":3.86},{"c":"Iceland","t":1965,"v":3.71},{"c":"Iceland","t":1966,"v":3.58},{"c":"Iceland","t":1967,"v":3.28},{"c":"Iceland","t":1968,"v":3.07},{"c":"Iceland","t":1969,"v":2.99},
    {"c":"Iceland","t":1970,"v":2.81},{"c":"Iceland","t":1971,"v":2.92},{"c":"Iceland","t":1972,"v":3.09},{"c":"Iceland","t":1973,"v":2.95},{"c":"Iceland","t":1974,"v":2.66},{"c":"Iceland","t":1975,"v":2.65},{"c":"Iceland","t":1976,"v":2.52},{"c":"Iceland","t":1977,"v":2.32},{"c":"Iceland","t":1978,"v":2.35},{"c":"Iceland","t":1979,"v":2.49},
    {"c":"Iceland","t":1980,"v":2.48},{"c":"Iceland","t":1981,"v":2.31},{"c":"Iceland","t":1982,"v":2.23},{"c":"Iceland","t":1983,"v":2.20},{"c":"Iceland","t":1984,"v":2.08},{"c":"Iceland","t":1985,"v":1.93},{"c":"Iceland","t":1986,"v":1.93},{"c":"Iceland","t":1987,"v":2.07},{"c":"Iceland","t":1988,"v":2.27},{"c":"Iceland","t":1989,"v":2.20},
    {"c":"Iceland","t":1990,"v":2.31},{"c":"Iceland","t":1991,"v":2.19},{"c":"Iceland","t":1992,"v":2.21},{"c":"Iceland","t":1993,"v":2.22},{"c":"Iceland","t":1994,"v":2.14},{"c":"Iceland","t":1995,"v":2.09},{"c":"Iceland","t":1996,"v":2.12},{"c":"Iceland","t":1997,"v":2.04},{"c":"Iceland","t":1998,"v":2.05},{"c":"Iceland","t":1999,"v":2.00},
    {"c":"Iceland","t":2000,"v":2.08},{"c":"Iceland","t":2001,"v":1.95},{"c":"Iceland","t":2002,"v":1.93},{"c":"Iceland","t":2003,"v":1.99},{"c":"Iceland","t":2004,"v":2.03},{"c":"Iceland","t":2005,"v":2.05},{"c":"Iceland","t":2006,"v":2.07},{"c":"Iceland","t":2007,"v":2.09},{"c":"Iceland","t":2008,"v":2.14},{"c":"Iceland","t":2009,"v":2.23},
    {"c":"Iceland","t":2010,"v":2.20},{"c":"Iceland","t":2011,"v":2.02},{"c":"Iceland","t":2012,"v":2.04},{"c":"Iceland","t":2013,"v":1.93},{"c":"Iceland","t":2014,"v":1.93},{"c":"Iceland","t":2015,"v":1.80},{"c":"Iceland","t":2016,"v":1.74},{"c":"Iceland","t":2017,"v":1.71},{"c":"Iceland","t":2018,"v":1.71},{"c":"Iceland","t":2019,"v":1.75},
    {"c":"Iceland","t":2020,"v":1.72},{"c":"Iceland","t":2021,"v":1.82},

    {"c":"Ireland","t":1960,"v":3.76},{"c":"Ireland","t":1961,"v":3.78},{"c":"Ireland","t":1962,"v":3.92},{"c":"Ireland","t":1963,"v":4.01},{"c":"Ireland","t":1964,"v":4.06},{"c":"Ireland","t":1965,"v":4.03},{"c":"Ireland","t":1966,"v":3.95},{"c":"Ireland","t":1967,"v":3.84},{"c":"Ireland","t":1968,"v":3.79},{"c":"Ireland","t":1969,"v":3.88},
    {"c":"Ireland","t":1970,"v":3.87},{"c":"Ireland","t":1971,"v":3.98},{"c":"Ireland","t":1972,"v":3.87},{"c":"Ireland","t":1973,"v":3.75},{"c":"Ireland","t":1974,"v":3.62},{"c":"Ireland","t":1975,"v":3.40},{"c":"Ireland","t":1976,"v":3.31},{"c":"Ireland","t":1977,"v":3.27},{"c":"Ireland","t":1978,"v":3.25},{"c":"Ireland","t":1979,"v":3.24},
    {"c":"Ireland","t":1980,"v":3.23},{"c":"Ireland","t":1981,"v":3.07},{"c":"Ireland","t":1982,"v":2.96},{"c":"Ireland","t":1983,"v":2.79},{"c":"Ireland","t":1984,"v":2.60},{"c":"Ireland","t":1985,"v":2.52},{"c":"Ireland","t":1986,"v":2.45},{"c":"Ireland","t":1987,"v":2.31},{"c":"Ireland","t":1988,"v":2.17},{"c":"Ireland","t":1989,"v":2.08},
    {"c":"Ireland","t":1990,"v":2.11},{"c":"Ireland","t":1991,"v":2.08},{"c":"Ireland","t":1992,"v":1.98},{"c":"Ireland","t":1993,"v":1.90},{"c":"Ireland","t":1994,"v":1.85},{"c":"Ireland","t":1995,"v":1.84},{"c":"Ireland","t":1996,"v":1.88},{"c":"Ireland","t":1997,"v":1.92},{"c":"Ireland","t":1998,"v":1.93},{"c":"Ireland","t":1999,"v":1.89},
    {"c":"Ireland","t":2000,"v":1.89},{"c":"Ireland","t":2001,"v":1.94},{"c":"Ireland","t":2002,"v":1.97},{"c":"Ireland","t":2003,"v":1.96},{"c":"Ireland","t":2004,"v":1.93},{"c":"Ireland","t":2005,"v":1.86},{"c":"Ireland","t":2006,"v":1.91},{"c":"Ireland","t":2007,"v":2.01},{"c":"Ireland","t":2008,"v":2.07},{"c":"Ireland","t":2009,"v":2.06},
    {"c":"Ireland","t":2010,"v":2.05},{"c":"Ireland","t":2011,"v":2.03},{"c":"Ireland","t":2012,"v":1.98},{"c":"Ireland","t":2013,"v":1.96},{"c":"Ireland","t":2014,"v":1.89},{"c":"Ireland","t":2015,"v":1.85},{"c":"Ireland","t":2016,"v":1.81},{"c":"Ireland","t":2017,"v":1.77},{"c":"Ireland","t":2018,"v":1.75},{"c":"Ireland","t":2019,"v":1.71},
    {"c":"Ireland","t":2020,"v":1.63},{"c":"Ireland","t":2021,"v":1.78},

    {"c":"Israel","t":1970,"v":3.97},{"c":"Israel","t":1971,"v":3.95},{"c":"Israel","t":1972,"v":3.86},{"c":"Israel","t":1973,"v":3.79},{"c":"Israel","t":1974,"v":3.73},{"c":"Israel","t":1975,"v":3.68},{"c":"Israel","t":1976,"v":3.60},{"c":"Israel","t":1977,"v":3.47},{"c":"Israel","t":1978,"v":3.28},{"c":"Israel","t":1979,"v":3.22},
    {"c":"Israel","t":1980,"v":3.17},{"c":"Israel","t":1981,"v":3.07},{"c":"Israel","t":1982,"v":3.13},{"c":"Israel","t":1983,"v":3.20},{"c":"Israel","t":1984,"v":3.13},{"c":"Israel","t":1985,"v":3.12},{"c":"Israel","t":1986,"v":3.09},{"c":"Israel","t":1987,"v":3.06},{"c":"Israel","t":1988,"v":3.07},{"c":"Israel","t":1989,"v":3.02},
    {"c":"Israel","t":1990,"v":3.01},{"c":"Israel","t":1991,"v":2.91},{"c":"Israel","t":1992,"v":2.93},{"c":"Israel","t":1993,"v":2.92},{"c":"Israel","t":1994,"v":2.90},{"c":"Israel","t":1995,"v":2.88},{"c":"Israel","t":1996,"v":2.94},{"c":"Israel","t":1997,"v":2.93},{"c":"Israel","t":1998,"v":2.97},{"c":"Israel","t":1999,"v":2.94},
    {"c":"Israel","t":2000,"v":2.94},{"c":"Israel","t":2001,"v":2.89},{"c":"Israel","t":2002,"v":2.89},{"c":"Israel","t":2003,"v":2.95},{"c":"Israel","t":2004,"v":2.90},{"c":"Israel","t":2005,"v":2.84},{"c":"Israel","t":2006,"v":2.88},{"c":"Israel","t":2007,"v":2.90},{"c":"Israel","t":2008,"v":2.96},{"c":"Israel","t":2009,"v":2.97},
    {"c":"Israel","t":2010,"v":3.03},{"c":"Israel","t":2011,"v":3.00},{"c":"Israel","t":2012,"v":3.05},{"c":"Israel","t":2013,"v":3.03},{"c":"Israel","t":2014,"v":3.08},{"c":"Israel","t":2015,"v":3.09},{"c":"Israel","t":2016,"v":3.10},{"c":"Israel","t":2017,"v":3.11},{"c":"Israel","t":2018,"v":3.09},{"c":"Israel","t":2019,"v":3.01},
    {"c":"Israel","t":2020,"v":2.90},{"c":"Israel","t":2021,"v":3.00},

    {"c":"Italy","t":1960,"v":2.37},{"c":"Italy","t":1961,"v":2.41},{"c":"Italy","t":1962,"v":2.46},{"c":"Italy","t":1963,"v":2.56},{"c":"Italy","t":1964,"v":2.70},{"c":"Italy","t":1965,"v":2.66},{"c":"Italy","t":1966,"v":2.63},{"c":"Italy","t":1967,"v":2.54},{"c":"Italy","t":1968,"v":2.49},{"c":"Italy","t":1969,"v":2.51},
    {"c":"Italy","t":1970,"v":2.42},{"c":"Italy","t":1971,"v":2.41},{"c":"Italy","t":1972,"v":2.36},{"c":"Italy","t":1973,"v":2.34},{"c":"Italy","t":1974,"v":2.33},{"c":"Italy","t":1975,"v":2.21},{"c":"Italy","t":1976,"v":2.11},{"c":"Italy","t":1977,"v":1.98},{"c":"Italy","t":1978,"v":1.87},{"c":"Italy","t":1979,"v":1.76},
    {"c":"Italy","t":1980,"v":1.64},{"c":"Italy","t":1981,"v":1.60},{"c":"Italy","t":1982,"v":1.60},{"c":"Italy","t":1983,"v":1.54},{"c":"Italy","t":1984,"v":1.46},{"c":"Italy","t":1985,"v":1.42},{"c":"Italy","t":1986,"v":1.37},{"c":"Italy","t":1987,"v":1.32},{"c":"Italy","t":1988,"v":1.35},{"c":"Italy","t":1989,"v":1.30},
    {"c":"Italy","t":1990,"v":1.33},{"c":"Italy","t":1991,"v":1.31},{"c":"Italy","t":1992,"v":1.31},{"c":"Italy","t":1993,"v":1.26},{"c":"Italy","t":1994,"v":1.22},{"c":"Italy","t":1995,"v":1.19},{"c":"Italy","t":1996,"v":1.21},{"c":"Italy","t":1997,"v":1.22},{"c":"Italy","t":1998,"v":1.21},{"c":"Italy","t":1999,"v":1.23},
    {"c":"Italy","t":2000,"v":1.26},{"c":"Italy","t":2001,"v":1.25},{"c":"Italy","t":2002,"v":1.27},{"c":"Italy","t":2003,"v":1.29},{"c":"Italy","t":2004,"v":1.34},{"c":"Italy","t":2005,"v":1.34},{"c":"Italy","t":2006,"v":1.37},{"c":"Italy","t":2007,"v":1.40},{"c":"Italy","t":2008,"v":1.45},{"c":"Italy","t":2009,"v":1.45},
    {"c":"Italy","t":2010,"v":1.46},{"c":"Italy","t":2011,"v":1.44},{"c":"Italy","t":2012,"v":1.42},{"c":"Italy","t":2013,"v":1.39},{"c":"Italy","t":2014,"v":1.37},{"c":"Italy","t":2015,"v":1.35},{"c":"Italy","t":2016,"v":1.34},{"c":"Italy","t":2017,"v":1.32},{"c":"Italy","t":2018,"v":1.29},{"c":"Italy","t":2019,"v":1.27},
    {"c":"Italy","t":2020,"v":1.24},{"c":"Italy","t":2021,"v":1.25},

    {"c":"Japan","t":1960,"v":2.00},{"c":"Japan","t":1961,"v":1.96},{"c":"Japan","t":1962,"v":1.98},{"c":"Japan","t":1963,"v":2.00},{"c":"Japan","t":1964,"v":2.05},{"c":"Japan","t":1965,"v":2.14},{"c":"Japan","t":1966,"v":1.58},{"c":"Japan","t":1967,"v":2.23},{"c":"Japan","t":1968,"v":2.13},{"c":"Japan","t":1969,"v":2.13},
    {"c":"Japan","t":1970,"v":2.13},{"c":"Japan","t":1971,"v":2.16},{"c":"Japan","t":1972,"v":2.14},{"c":"Japan","t":1973,"v":2.14},{"c":"Japan","t":1974,"v":2.05},{"c":"Japan","t":1975,"v":1.91},{"c":"Japan","t":1976,"v":1.85},{"c":"Japan","t":1977,"v":1.80},{"c":"Japan","t":1978,"v":1.79},{"c":"Japan","t":1979,"v":1.77},
    {"c":"Japan","t":1980,"v":1.75},{"c":"Japan","t":1981,"v":1.74},{"c":"Japan","t":1982,"v":1.77},{"c":"Japan","t":1983,"v":1.80},{"c":"Japan","t":1984,"v":1.81},{"c":"Japan","t":1985,"v":1.76},{"c":"Japan","t":1986,"v":1.72},{"c":"Japan","t":1987,"v":1.69},{"c":"Japan","t":1988,"v":1.66},{"c":"Japan","t":1989,"v":1.57},
    {"c":"Japan","t":1990,"v":1.54},{"c":"Japan","t":1991,"v":1.53},{"c":"Japan","t":1992,"v":1.50},{"c":"Japan","t":1993,"v":1.46},{"c":"Japan","t":1994,"v":1.50},{"c":"Japan","t":1995,"v":1.42},{"c":"Japan","t":1996,"v":1.43},{"c":"Japan","t":1997,"v":1.39},{"c":"Japan","t":1998,"v":1.38},{"c":"Japan","t":1999,"v":1.34},
    {"c":"Japan","t":2000,"v":1.36},{"c":"Japan","t":2001,"v":1.33},{"c":"Japan","t":2002,"v":1.32},{"c":"Japan","t":2003,"v":1.29},{"c":"Japan","t":2004,"v":1.29},{"c":"Japan","t":2005,"v":1.26},{"c":"Japan","t":2006,"v":1.32},{"c":"Japan","t":2007,"v":1.34},{"c":"Japan","t":2008,"v":1.37},{"c":"Japan","t":2009,"v":1.37},
    {"c":"Japan","t":2010,"v":1.39},{"c":"Japan","t":2011,"v":1.39},{"c":"Japan","t":2012,"v":1.41},{"c":"Japan","t":2013,"v":1.43},{"c":"Japan","t":2014,"v":1.42},{"c":"Japan","t":2015,"v":1.45},{"c":"Japan","t":2016,"v":1.44},{"c":"Japan","t":2017,"v":1.43},{"c":"Japan","t":2018,"v":1.42},{"c":"Japan","t":2019,"v":1.36},
    {"c":"Japan","t":2020,"v":1.33},{"c":"Japan","t":2021,"v":1.30},

    {"c":"Korea","t":1970,"v":4.53},{"c":"Korea","t":1971,"v":4.54},{"c":"Korea","t":1972,"v":4.12},{"c":"Korea","t":1973,"v":4.07},{"c":"Korea","t":1974,"v":3.77},{"c":"Korea","t":1975,"v":3.43},{"c":"Korea","t":1976,"v":3.00},{"c":"Korea","t":1977,"v":2.99},{"c":"Korea","t":1978,"v":2.65},{"c":"Korea","t":1979,"v":2.90},
    {"c":"Korea","t":1980,"v":2.83},{"c":"Korea","t":1981,"v":2.65},{"c":"Korea","t":1982,"v":2.48},{"c":"Korea","t":1983,"v":2.08},{"c":"Korea","t":1984,"v":1.74},{"c":"Korea","t":1985,"v":1.66},{"c":"Korea","t":1986,"v":1.58},{"c":"Korea","t":1987,"v":1.53},{"c":"Korea","t":1988,"v":1.55},{"c":"Korea","t":1989,"v":1.56},
    {"c":"Korea","t":1990,"v":1.57},{"c":"Korea","t":1991,"v":1.71},{"c":"Korea","t":1992,"v":1.76},{"c":"Korea","t":1993,"v":1.65},{"c":"Korea","t":1994,"v":1.66},{"c":"Korea","t":1995,"v":1.63},{"c":"Korea","t":1996,"v":1.57},{"c":"Korea","t":1997,"v":1.52},{"c":"Korea","t":1998,"v":1.46},{"c":"Korea","t":1999,"v":1.43},
    {"c":"Korea","t":2000,"v":1.48},{"c":"Korea","t":2001,"v":1.31},{"c":"Korea","t":2002,"v":1.18},{"c":"Korea","t":2003,"v":1.19},{"c":"Korea","t":2004,"v":1.16},{"c":"Korea","t":2005,"v":1.09},{"c":"Korea","t":2006,"v":1.13},{"c":"Korea","t":2007,"v":1.26},{"c":"Korea","t":2008,"v":1.19},{"c":"Korea","t":2009,"v":1.15},
    {"c":"Korea","t":2010,"v":1.23},{"c":"Korea","t":2011,"v":1.24},{"c":"Korea","t":2012,"v":1.30},{"c":"Korea","t":2013,"v":1.19},{"c":"Korea","t":2014,"v":1.21},{"c":"Korea","t":2015,"v":1.24},{"c":"Korea","t":2016,"v":1.17},{"c":"Korea","t":2017,"v":1.05},{"c":"Korea","t":2018,"v":0.98},{"c":"Korea","t":2019,"v":0.92},
    {"c":"Korea","t":2020,"v":0.84},{"c":"Korea","t":2021,"v":0.81},

    {"c":"Mexico","t":1985,"v":3.96},{"c":"Mexico","t":1986,"v":3.85},{"c":"Mexico","t":1987,"v":3.76},{"c":"Mexico","t":1988,"v":3.66},{"c":"Mexico","t":1989,"v":3.56},
    {"c":"Mexico","t":1990,"v":3.49},{"c":"Mexico","t":1991,"v":3.42},{"c":"Mexico","t":1992,"v":3.33},{"c":"Mexico","t":1993,"v":3.22},{"c":"Mexico","t":1994,"v":3.11},{"c":"Mexico","t":1995,"v":3.01},{"c":"Mexico","t":1996,"v":2.93},{"c":"Mexico","t":1997,"v":2.86},{"c":"Mexico","t":1998,"v":2.79},{"c":"Mexico","t":1999,"v":2.73},
    {"c":"Mexico","t":2000,"v":2.68},{"c":"Mexico","t":2001,"v":2.64},{"c":"Mexico","t":2002,"v":2.60},{"c":"Mexico","t":2003,"v":2.55},{"c":"Mexico","t":2004,"v":2.51},{"c":"Mexico","t":2005,"v":2.48},{"c":"Mexico","t":2006,"v":2.44},{"c":"Mexico","t":2007,"v":2.41},{"c":"Mexico","t":2008,"v":2.38},{"c":"Mexico","t":2009,"v":2.36},
    {"c":"Mexico","t":2010,"v":2.33},{"c":"Mexico","t":2011,"v":2.31},{"c":"Mexico","t":2012,"v":2.29},{"c":"Mexico","t":2013,"v":2.25},{"c":"Mexico","t":2014,"v":2.19},{"c":"Mexico","t":2015,"v":2.13},{"c":"Mexico","t":2016,"v":2.08},{"c":"Mexico","t":2017,"v":2.03},{"c":"Mexico","t":2018,"v":1.95},{"c":"Mexico","t":2019,"v":1.91},
    {"c":"Mexico","t":2020,"v":1.86},{"c":"Mexico","t":2021,"v":1.82},

    {"c":"Netherlands","t":1960,"v":3.12},{"c":"Netherlands","t":1961,"v":3.21},{"c":"Netherlands","t":1962,"v":3.18},{"c":"Netherlands","t":1963,"v":3.19},{"c":"Netherlands","t":1964,"v":3.17},{"c":"Netherlands","t":1965,"v":3.04},{"c":"Netherlands","t":1966,"v":2.90},{"c":"Netherlands","t":1967,"v":2.81},{"c":"Netherlands","t":1968,"v":2.72},{"c":"Netherlands","t":1969,"v":2.75},
    {"c":"Netherlands","t":1970,"v":2.57},{"c":"Netherlands","t":1971,"v":2.36},{"c":"Netherlands","t":1972,"v":2.15},{"c":"Netherlands","t":1973,"v":1.90},{"c":"Netherlands","t":1974,"v":1.77},{"c":"Netherlands","t":1975,"v":1.66},{"c":"Netherlands","t":1976,"v":1.63},{"c":"Netherlands","t":1977,"v":1.58},{"c":"Netherlands","t":1978,"v":1.58},{"c":"Netherlands","t":1979,"v":1.56},
    {"c":"Netherlands","t":1980,"v":1.60},{"c":"Netherlands","t":1981,"v":1.56},{"c":"Netherlands","t":1982,"v":1.50},{"c":"Netherlands","t":1983,"v":1.47},{"c":"Netherlands","t":1984,"v":1.49},{"c":"Netherlands","t":1985,"v":1.51},{"c":"Netherlands","t":1986,"v":1.55},{"c":"Netherlands","t":1987,"v":1.56},{"c":"Netherlands","t":1988,"v":1.55},{"c":"Netherlands","t":1989,"v":1.55},
    {"c":"Netherlands","t":1990,"v":1.62},{"c":"Netherlands","t":1991,"v":1.61},{"c":"Netherlands","t":1992,"v":1.59},{"c":"Netherlands","t":1993,"v":1.57},{"c":"Netherlands","t":1994,"v":1.57},{"c":"Netherlands","t":1995,"v":1.53},{"c":"Netherlands","t":1996,"v":1.53},{"c":"Netherlands","t":1997,"v":1.56},{"c":"Netherlands","t":1998,"v":1.63},{"c":"Netherlands","t":1999,"v":1.65},
    {"c":"Netherlands","t":2000,"v":1.72},{"c":"Netherlands","t":2001,"v":1.71},{"c":"Netherlands","t":2002,"v":1.73},{"c":"Netherlands","t":2003,"v":1.75},{"c":"Netherlands","t":2004,"v":1.73},{"c":"Netherlands","t":2005,"v":1.71},{"c":"Netherlands","t":2006,"v":1.72},{"c":"Netherlands","t":2007,"v":1.72},{"c":"Netherlands","t":2008,"v":1.77},{"c":"Netherlands","t":2009,"v":1.79},
    {"c":"Netherlands","t":2010,"v":1.79},{"c":"Netherlands","t":2011,"v":1.76},{"c":"Netherlands","t":2012,"v":1.72},{"c":"Netherlands","t":2013,"v":1.68},{"c":"Netherlands","t":2014,"v":1.71},{"c":"Netherlands","t":2015,"v":1.66},{"c":"Netherlands","t":2016,"v":1.66},{"c":"Netherlands","t":2017,"v":1.62},{"c":"Netherlands","t":2018,"v":1.59},{"c":"Netherlands","t":2019,"v":1.57},
    {"c":"Netherlands","t":2020,"v":1.55},{"c":"Netherlands","t":2021,"v":1.62},

    {"c":"New Zealand","t":1960,"v":4.03},{"c":"New Zealand","t":1961,"v":4.17},{"c":"New Zealand","t":1962,"v":4.11},{"c":"New Zealand","t":1963,"v":4.02},{"c":"New Zealand","t":1964,"v":3.73},{"c":"New Zealand","t":1965,"v":3.58},{"c":"New Zealand","t":1966,"v":3.42},{"c":"New Zealand","t":1967,"v":3.37},{"c":"New Zealand","t":1968,"v":3.33},{"c":"New Zealand","t":1969,"v":3.25},
    {"c":"New Zealand","t":1970,"v":3.17},{"c":"New Zealand","t":1971,"v":3.18},{"c":"New Zealand","t":1972,"v":2.95},{"c":"New Zealand","t":1973,"v":2.75},{"c":"New Zealand","t":1974,"v":2.55},{"c":"New Zealand","t":1975,"v":2.38},{"c":"New Zealand","t":1976,"v":2.31},{"c":"New Zealand","t":1977,"v":2.26},{"c":"New Zealand","t":1978,"v":2.20},{"c":"New Zealand","t":1979,"v":2.10},
    {"c":"New Zealand","t":1980,"v":2.03},{"c":"New Zealand","t":1981,"v":2.01},{"c":"New Zealand","t":1982,"v":1.95},{"c":"New Zealand","t":1983,"v":1.92},{"c":"New Zealand","t":1984,"v":1.93},{"c":"New Zealand","t":1985,"v":1.93},{"c":"New Zealand","t":1986,"v":1.96},{"c":"New Zealand","t":1987,"v":2.03},{"c":"New Zealand","t":1988,"v":2.10},{"c":"New Zealand","t":1989,"v":2.12},
    {"c":"New Zealand","t":1990,"v":2.18},{"c":"New Zealand","t":1991,"v":2.09},{"c":"New Zealand","t":1992,"v":2.07},{"c":"New Zealand","t":1993,"v":2.04},{"c":"New Zealand","t":1994,"v":2.02},{"c":"New Zealand","t":1995,"v":1.98},{"c":"New Zealand","t":1996,"v":1.96},{"c":"New Zealand","t":1997,"v":1.96},{"c":"New Zealand","t":1998,"v":1.89},{"c":"New Zealand","t":1999,"v":1.98},
    {"c":"New Zealand","t":2000,"v":1.98},{"c":"New Zealand","t":2001,"v":1.97},{"c":"New Zealand","t":2002,"v":1.89},{"c":"New Zealand","t":2003,"v":1.93},{"c":"New Zealand","t":2004,"v":1.98},{"c":"New Zealand","t":2005,"v":1.97},{"c":"New Zealand","t":2006,"v":2.01},{"c":"New Zealand","t":2007,"v":2.17},{"c":"New Zealand","t":2008,"v":2.18},{"c":"New Zealand","t":2009,"v":2.12},
    {"c":"New Zealand","t":2010,"v":2.15},{"c":"New Zealand","t":2011,"v":2.09},{"c":"New Zealand","t":2012,"v":2.10},{"c":"New Zealand","t":2013,"v":2.01},{"c":"New Zealand","t":2014,"v":1.92},{"c":"New Zealand","t":2015,"v":1.99},{"c":"New Zealand","t":2016,"v":1.87},{"c":"New Zealand","t":2017,"v":1.81},{"c":"New Zealand","t":2018,"v":1.71},{"c":"New Zealand","t":2019,"v":1.72},
    {"c":"New Zealand","t":2020,"v":1.61},{"c":"New Zealand","t":2021,"v":1.64},

    {"c":"Norway","t":1960,"v":2.85},{"c":"Norway","t":1961,"v":2.94},{"c":"Norway","t":1962,"v":2.91},{"c":"Norway","t":1963,"v":2.91},{"c":"Norway","t":1964,"v":2.98},{"c":"Norway","t":1965,"v":2.94},{"c":"Norway","t":1966,"v":2.90},{"c":"Norway","t":1967,"v":2.81},{"c":"Norway","t":1968,"v":2.75},{"c":"Norway","t":1969,"v":2.69},
    {"c":"Norway","t":1970,"v":2.50},{"c":"Norway","t":1971,"v":2.49},{"c":"Norway","t":1972,"v":2.38},{"c":"Norway","t":1973,"v":2.23},{"c":"Norway","t":1974,"v":2.13},{"c":"Norway","t":1975,"v":1.98},{"c":"Norway","t":1976,"v":1.86},{"c":"Norway","t":1977,"v":1.75},{"c":"Norway","t":1978,"v":1.77},{"c":"Norway","t":1979,"v":1.75},
    {"c":"Norway","t":1980,"v":1.72},{"c":"Norway","t":1981,"v":1.70},{"c":"Norway","t":1982,"v":1.71},{"c":"Norway","t":1983,"v":1.66},{"c":"Norway","t":1984,"v":1.66},{"c":"Norway","t":1985,"v":1.68},{"c":"Norway","t":1986,"v":1.71},{"c":"Norway","t":1987,"v":1.75},{"c":"Norway","t":1988,"v":1.84},{"c":"Norway","t":1989,"v":1.89},
    {"c":"Norway","t":1990,"v":1.93},{"c":"Norway","t":1991,"v":1.92},{"c":"Norway","t":1992,"v":1.88},{"c":"Norway","t":1993,"v":1.86},{"c":"Norway","t":1994,"v":1.87},{"c":"Norway","t":1995,"v":1.87},{"c":"Norway","t":1996,"v":1.89},{"c":"Norway","t":1997,"v":1.86},{"c":"Norway","t":1998,"v":1.81},{"c":"Norway","t":1999,"v":1.84},
    {"c":"Norway","t":2000,"v":1.85},{"c":"Norway","t":2001,"v":1.78},{"c":"Norway","t":2002,"v":1.75},{"c":"Norway","t":2003,"v":1.80},{"c":"Norway","t":2004,"v":1.83},{"c":"Norway","t":2005,"v":1.84},{"c":"Norway","t":2006,"v":1.90},{"c":"Norway","t":2007,"v":1.90},{"c":"Norway","t":2008,"v":1.96},{"c":"Norway","t":2009,"v":1.98},
    {"c":"Norway","t":2010,"v":1.95},{"c":"Norway","t":2011,"v":1.88},{"c":"Norway","t":2012,"v":1.85},{"c":"Norway","t":2013,"v":1.78},{"c":"Norway","t":2014,"v":1.75},{"c":"Norway","t":2015,"v":1.72},{"c":"Norway","t":2016,"v":1.71},{"c":"Norway","t":2017,"v":1.62},{"c":"Norway","t":2018,"v":1.56},{"c":"Norway","t":2019,"v":1.53},
    {"c":"Norway","t":2020,"v":1.48},{"c":"Norway","t":2021,"v":1.55},

    {"c":"Poland","t":1960,"v":2.98},{"c":"Poland","t":1961,"v":2.83},{"c":"Poland","t":1962,"v":2.72},{"c":"Poland","t":1963,"v":2.70},{"c":"Poland","t":1964,"v":2.57},{"c":"Poland","t":1965,"v":2.52},{"c":"Poland","t":1966,"v":2.34},{"c":"Poland","t":1967,"v":2.33},{"c":"Poland","t":1968,"v":2.24},{"c":"Poland","t":1969,"v":2.20},
    {"c":"Poland","t":1970,"v":2.20},{"c":"Poland","t":1971,"v":2.25},{"c":"Poland","t":1972,"v":2.24},{"c":"Poland","t":1973,"v":2.26},{"c":"Poland","t":1974,"v":2.26},{"c":"Poland","t":1975,"v":2.27},{"c":"Poland","t":1976,"v":2.30},{"c":"Poland","t":1977,"v":2.23},{"c":"Poland","t":1978,"v":2.21},{"c":"Poland","t":1979,"v":2.28},
    {"c":"Poland","t":1980,"v":2.28},{"c":"Poland","t":1981,"v":2.24},{"c":"Poland","t":1982,"v":2.34},{"c":"Poland","t":1983,"v":2.42},{"c":"Poland","t":1984,"v":2.37},{"c":"Poland","t":1985,"v":2.33},{"c":"Poland","t":1986,"v":2.22},{"c":"Poland","t":1987,"v":2.15},{"c":"Poland","t":1988,"v":2.13},{"c":"Poland","t":1989,"v":2.08},
    {"c":"Poland","t":1990,"v":2.06},{"c":"Poland","t":1991,"v":2.05},{"c":"Poland","t":1992,"v":1.93},{"c":"Poland","t":1993,"v":1.85},{"c":"Poland","t":1994,"v":1.80},{"c":"Poland","t":1995,"v":1.61},{"c":"Poland","t":1996,"v":1.58},{"c":"Poland","t":1997,"v":1.51},{"c":"Poland","t":1998,"v":1.44},{"c":"Poland","t":1999,"v":1.37},
    {"c":"Poland","t":2000,"v":1.37},{"c":"Poland","t":2001,"v":1.31},{"c":"Poland","t":2002,"v":1.25},{"c":"Poland","t":2003,"v":1.22},{"c":"Poland","t":2004,"v":1.23},{"c":"Poland","t":2005,"v":1.24},{"c":"Poland","t":2006,"v":1.27},{"c":"Poland","t":2007,"v":1.31},{"c":"Poland","t":2008,"v":1.39},{"c":"Poland","t":2009,"v":1.40},
    {"c":"Poland","t":2010,"v":1.41},{"c":"Poland","t":2011,"v":1.33},{"c":"Poland","t":2012,"v":1.33},{"c":"Poland","t":2013,"v":1.29},{"c":"Poland","t":2014,"v":1.32},{"c":"Poland","t":2015,"v":1.32},{"c":"Poland","t":2016,"v":1.39},{"c":"Poland","t":2017,"v":1.48},{"c":"Poland","t":2018,"v":1.46},{"c":"Poland","t":2019,"v":1.44},
    {"c":"Poland","t":2020,"v":1.39},{"c":"Poland","t":2021,"v":1.33},

    {"c":"Portugal","t":1960,"v":3.16},{"c":"Portugal","t":1961,"v":3.23},{"c":"Portugal","t":1962,"v":3.23},{"c":"Portugal","t":1963,"v":3.16},{"c":"Portugal","t":1964,"v":3.25},{"c":"Portugal","t":1965,"v":3.14},{"c":"Portugal","t":1966,"v":3.10},{"c":"Portugal","t":1967,"v":3.02},{"c":"Portugal","t":1968,"v":2.95},{"c":"Portugal","t":1969,"v":2.92},
    {"c":"Portugal","t":1970,"v":2.83},{"c":"Portugal","t":1971,"v":2.99},{"c":"Portugal","t":1972,"v":2.72},{"c":"Portugal","t":1973,"v":2.68},{"c":"Portugal","t":1974,"v":2.66},{"c":"Portugal","t":1975,"v":2.75},{"c":"Portugal","t":1976,"v":2.77},{"c":"Portugal","t":1977,"v":2.58},{"c":"Portugal","t":1978,"v":2.30},{"c":"Portugal","t":1979,"v":2.22},
    {"c":"Portugal","t":1980,"v":2.25},{"c":"Portugal","t":1981,"v":2.13},{"c":"Portugal","t":1982,"v":2.07},{"c":"Portugal","t":1983,"v":1.95},{"c":"Portugal","t":1984,"v":1.90},{"c":"Portugal","t":1985,"v":1.72},{"c":"Portugal","t":1986,"v":1.66},{"c":"Portugal","t":1987,"v":1.62},{"c":"Portugal","t":1988,"v":1.62},{"c":"Portugal","t":1989,"v":1.58},
    {"c":"Portugal","t":1990,"v":1.56},{"c":"Portugal","t":1991,"v":1.56},{"c":"Portugal","t":1992,"v":1.54},{"c":"Portugal","t":1993,"v":1.52},{"c":"Portugal","t":1994,"v":1.44},{"c":"Portugal","t":1995,"v":1.41},{"c":"Portugal","t":1996,"v":1.45},{"c":"Portugal","t":1997,"v":1.47},{"c":"Portugal","t":1998,"v":1.48},{"c":"Portugal","t":1999,"v":1.50},
    {"c":"Portugal","t":2000,"v":1.55},{"c":"Portugal","t":2001,"v":1.45},{"c":"Portugal","t":2002,"v":1.47},{"c":"Portugal","t":2003,"v":1.44},{"c":"Portugal","t":2004,"v":1.40},{"c":"Portugal","t":2005,"v":1.41},{"c":"Portugal","t":2006,"v":1.36},{"c":"Portugal","t":2007,"v":1.35},{"c":"Portugal","t":2008,"v":1.39},{"c":"Portugal","t":2009,"v":1.32},
    {"c":"Portugal","t":2010,"v":1.39},{"c":"Portugal","t":2011,"v":1.35},{"c":"Portugal","t":2012,"v":1.28},{"c":"Portugal","t":2013,"v":1.21},{"c":"Portugal","t":2014,"v":1.23},{"c":"Portugal","t":2015,"v":1.31},{"c":"Portugal","t":2016,"v":1.36},{"c":"Portugal","t":2017,"v":1.38},{"c":"Portugal","t":2018,"v":1.41},{"c":"Portugal","t":2019,"v":1.43},
    {"c":"Portugal","t":2020,"v":1.41},{"c":"Portugal","t":2021,"v":1.35},

    {"c":"Spain","t":1960,"v":2.86},{"c":"Spain","t":1961,"v":2.77},{"c":"Spain","t":1962,"v":2.80},{"c":"Spain","t":1963,"v":2.88},{"c":"Spain","t":1964,"v":3.01},{"c":"Spain","t":1965,"v":2.94},{"c":"Spain","t":1966,"v":2.91},{"c":"Spain","t":1967,"v":2.94},{"c":"Spain","t":1968,"v":2.87},{"c":"Spain","t":1969,"v":2.84},
    {"c":"Spain","t":1970,"v":2.88},{"c":"Spain","t":1971,"v":2.88},{"c":"Spain","t":1972,"v":2.86},{"c":"Spain","t":1973,"v":2.84},{"c":"Spain","t":1974,"v":2.89},{"c":"Spain","t":1975,"v":2.80},{"c":"Spain","t":1976,"v":2.80},{"c":"Spain","t":1977,"v":2.65},{"c":"Spain","t":1978,"v":2.55},{"c":"Spain","t":1979,"v":2.37},
    {"c":"Spain","t":1980,"v":2.20},{"c":"Spain","t":1981,"v":2.04},{"c":"Spain","t":1982,"v":1.94},{"c":"Spain","t":1983,"v":1.80},{"c":"Spain","t":1984,"v":1.73},{"c":"Spain","t":1985,"v":1.64},{"c":"Spain","t":1986,"v":1.56},{"c":"Spain","t":1987,"v":1.50},{"c":"Spain","t":1988,"v":1.45},{"c":"Spain","t":1989,"v":1.40},
    {"c":"Spain","t":1990,"v":1.36},{"c":"Spain","t":1991,"v":1.33},{"c":"Spain","t":1992,"v":1.32},{"c":"Spain","t":1993,"v":1.26},{"c":"Spain","t":1994,"v":1.21},{"c":"Spain","t":1995,"v":1.17},{"c":"Spain","t":1996,"v":1.16},{"c":"Spain","t":1997,"v":1.18},{"c":"Spain","t":1998,"v":1.16},{"c":"Spain","t":1999,"v":1.20},
    {"c":"Spain","t":2000,"v":1.23},{"c":"Spain","t":2001,"v":1.24},{"c":"Spain","t":2002,"v":1.26},{"c":"Spain","t":2003,"v":1.31},{"c":"Spain","t":2004,"v":1.33},{"c":"Spain","t":2005,"v":1.34},{"c":"Spain","t":2006,"v":1.36},{"c":"Spain","t":2007,"v":1.38},{"c":"Spain","t":2008,"v":1.44},{"c":"Spain","t":2009,"v":1.38},
    {"c":"Spain","t":2010,"v":1.37},{"c":"Spain","t":2011,"v":1.34},{"c":"Spain","t":2012,"v":1.32},{"c":"Spain","t":2013,"v":1.27},{"c":"Spain","t":2014,"v":1.32},{"c":"Spain","t":2015,"v":1.33},{"c":"Spain","t":2016,"v":1.34},{"c":"Spain","t":2017,"v":1.31},{"c":"Spain","t":2018,"v":1.26},{"c":"Spain","t":2019,"v":1.23},
    {"c":"Spain","t":2020,"v":1.19},{"c":"Spain","t":2021,"v":1.19},

    {"c":"Sweden","t":1960,"v":2.20},{"c":"Sweden","t":1961,"v":2.21},{"c":"Sweden","t":1962,"v":2.25},{"c":"Sweden","t":1963,"v":2.33},{"c":"Sweden","t":1964,"v":2.47},{"c":"Sweden","t":1965,"v":2.42},{"c":"Sweden","t":1966,"v":2.36},{"c":"Sweden","t":1967,"v":2.27},{"c":"Sweden","t":1968,"v":2.07},{"c":"Sweden","t":1969,"v":1.93},
    {"c":"Sweden","t":1970,"v":1.92},{"c":"Sweden","t":1971,"v":1.98},{"c":"Sweden","t":1972,"v":1.93},{"c":"Sweden","t":1973,"v":1.87},{"c":"Sweden","t":1974,"v":1.89},{"c":"Sweden","t":1975,"v":1.77},{"c":"Sweden","t":1976,"v":1.68},{"c":"Sweden","t":1977,"v":1.65},{"c":"Sweden","t":1978,"v":1.60},{"c":"Sweden","t":1979,"v":1.66},
    {"c":"Sweden","t":1980,"v":1.68},{"c":"Sweden","t":1981,"v":1.63},{"c":"Sweden","t":1982,"v":1.62},{"c":"Sweden","t":1983,"v":1.61},{"c":"Sweden","t":1984,"v":1.65},{"c":"Sweden","t":1985,"v":1.73},{"c":"Sweden","t":1986,"v":1.79},{"c":"Sweden","t":1987,"v":1.84},{"c":"Sweden","t":1988,"v":1.96},{"c":"Sweden","t":1989,"v":2.02},
    {"c":"Sweden","t":1990,"v":2.13},{"c":"Sweden","t":1991,"v":2.11},{"c":"Sweden","t":1992,"v":2.09},{"c":"Sweden","t":1993,"v":2.00},{"c":"Sweden","t":1994,"v":1.88},{"c":"Sweden","t":1995,"v":1.73},{"c":"Sweden","t":1996,"v":1.60},{"c":"Sweden","t":1997,"v":1.52},{"c":"Sweden","t":1998,"v":1.50},{"c":"Sweden","t":1999,"v":1.50},
    {"c":"Sweden","t":2000,"v":1.54},{"c":"Sweden","t":2001,"v":1.57},{"c":"Sweden","t":2002,"v":1.65},{"c":"Sweden","t":2003,"v":1.71},{"c":"Sweden","t":2004,"v":1.75},{"c":"Sweden","t":2005,"v":1.77},{"c":"Sweden","t":2006,"v":1.85},{"c":"Sweden","t":2007,"v":1.88},{"c":"Sweden","t":2008,"v":1.91},{"c":"Sweden","t":2009,"v":1.94},
    {"c":"Sweden","t":2010,"v":1.98},{"c":"Sweden","t":2011,"v":1.90},{"c":"Sweden","t":2012,"v":1.91},{"c":"Sweden","t":2013,"v":1.89},{"c":"Sweden","t":2014,"v":1.88},{"c":"Sweden","t":2015,"v":1.85},{"c":"Sweden","t":2016,"v":1.85},{"c":"Sweden","t":2017,"v":1.78},{"c":"Sweden","t":2018,"v":1.76},{"c":"Sweden","t":2019,"v":1.70},
    {"c":"Sweden","t":2020,"v":1.66},{"c":"Sweden","t":2021,"v":1.67},

    {"c":"Swiss","t":1960,"v":2.44},{"c":"Swiss","t":1961,"v":2.53},{"c":"Swiss","t":1962,"v":2.57},{"c":"Swiss","t":1963,"v":2.67},{"c":"Swiss","t":1964,"v":2.68},{"c":"Swiss","t":1965,"v":2.61},{"c":"Swiss","t":1966,"v":2.52},{"c":"Swiss","t":1967,"v":2.41},{"c":"Swiss","t":1968,"v":2.30},{"c":"Swiss","t":1969,"v":2.19},
    {"c":"Swiss","t":1970,"v":2.10},{"c":"Swiss","t":1971,"v":2.04},{"c":"Swiss","t":1972,"v":1.91},{"c":"Swiss","t":1973,"v":1.82},{"c":"Swiss","t":1974,"v":1.73},{"c":"Swiss","t":1975,"v":1.61},{"c":"Swiss","t":1976,"v":1.55},{"c":"Swiss","t":1977,"v":1.53},{"c":"Swiss","t":1978,"v":1.50},{"c":"Swiss","t":1979,"v":1.52},
    {"c":"Swiss","t":1980,"v":1.55},{"c":"Swiss","t":1981,"v":1.55},{"c":"Swiss","t":1982,"v":1.56},{"c":"Swiss","t":1983,"v":1.52},{"c":"Swiss","t":1984,"v":1.53},{"c":"Swiss","t":1985,"v":1.52},{"c":"Swiss","t":1986,"v":1.53},{"c":"Swiss","t":1987,"v":1.52},{"c":"Swiss","t":1988,"v":1.57},{"c":"Swiss","t":1989,"v":1.56},
    {"c":"Swiss","t":1990,"v":1.58},{"c":"Swiss","t":1991,"v":1.60},{"c":"Swiss","t":1992,"v":1.58},{"c":"Swiss","t":1993,"v":1.51},{"c":"Swiss","t":1994,"v":1.49},{"c":"Swiss","t":1995,"v":1.48},{"c":"Swiss","t":1996,"v":1.50},{"c":"Swiss","t":1997,"v":1.48},{"c":"Swiss","t":1998,"v":1.47},{"c":"Swiss","t":1999,"v":1.48},
    {"c":"Swiss","t":2000,"v":1.50},{"c":"Swiss","t":2001,"v":1.38},{"c":"Swiss","t":2002,"v":1.39},{"c":"Swiss","t":2003,"v":1.39},{"c":"Swiss","t":2004,"v":1.42},{"c":"Swiss","t":2005,"v":1.42},{"c":"Swiss","t":2006,"v":1.44},{"c":"Swiss","t":2007,"v":1.46},{"c":"Swiss","t":2008,"v":1.48},{"c":"Swiss","t":2009,"v":1.50},
    {"c":"Swiss","t":2010,"v":1.52},{"c":"Swiss","t":2011,"v":1.52},{"c":"Swiss","t":2012,"v":1.52},{"c":"Swiss","t":2013,"v":1.52},{"c":"Swiss","t":2014,"v":1.54},{"c":"Swiss","t":2015,"v":1.54},{"c":"Swiss","t":2016,"v":1.55},{"c":"Swiss","t":2017,"v":1.52},{"c":"Swiss","t":2018,"v":1.52},{"c":"Swiss","t":2019,"v":1.48},
    {"c":"Swiss","t":2020,"v":1.46},{"c":"Swiss","t":2021,"v":1.51},

    {"c":"UK","t":1960,"v":2.72},{"c":"UK","t":1961,"v":2.80},{"c":"UK","t":1962,"v":2.86},{"c":"UK","t":1963,"v":2.88},{"c":"UK","t":1964,"v":2.93},{"c":"UK","t":1965,"v":2.86},{"c":"UK","t":1966,"v":2.78},{"c":"UK","t":1967,"v":2.69},{"c":"UK","t":1968,"v":2.60},{"c":"UK","t":1969,"v":2.50},
    {"c":"UK","t":1970,"v":2.43},{"c":"UK","t":1971,"v":2.41},{"c":"UK","t":1972,"v":2.20},{"c":"UK","t":1973,"v":2.04},{"c":"UK","t":1974,"v":1.92},{"c":"UK","t":1975,"v":1.81},{"c":"UK","t":1976,"v":1.74},{"c":"UK","t":1977,"v":1.69},{"c":"UK","t":1978,"v":1.75},{"c":"UK","t":1979,"v":1.86},
    {"c":"UK","t":1980,"v":1.90},{"c":"UK","t":1981,"v":1.82},{"c":"UK","t":1982,"v":1.78},{"c":"UK","t":1983,"v":1.77},{"c":"UK","t":1984,"v":1.77},{"c":"UK","t":1985,"v":1.79},{"c":"UK","t":1986,"v":1.78},{"c":"UK","t":1987,"v":1.81},{"c":"UK","t":1988,"v":1.82},{"c":"UK","t":1989,"v":1.79},
    {"c":"UK","t":1990,"v":1.83},{"c":"UK","t":1991,"v":1.82},{"c":"UK","t":1992,"v":1.79},{"c":"UK","t":1993,"v":1.76},{"c":"UK","t":1994,"v":1.74},{"c":"UK","t":1995,"v":1.71},{"c":"UK","t":1996,"v":1.73},{"c":"UK","t":1997,"v":1.72},{"c":"UK","t":1998,"v":1.71},{"c":"UK","t":1999,"v":1.68},
    {"c":"UK","t":2000,"v":1.64},{"c":"UK","t":2001,"v":1.63},{"c":"UK","t":2002,"v":1.64},{"c":"UK","t":2003,"v":1.71},{"c":"UK","t":2004,"v":1.76},{"c":"UK","t":2005,"v":1.76},{"c":"UK","t":2006,"v":1.82},{"c":"UK","t":2007,"v":1.86},{"c":"UK","t":2008,"v":1.91},{"c":"UK","t":2009,"v":1.89},
    {"c":"UK","t":2010,"v":1.92},{"c":"UK","t":2011,"v":1.91},{"c":"UK","t":2012,"v":1.92},{"c":"UK","t":2013,"v":1.83},{"c":"UK","t":2014,"v":1.81},{"c":"UK","t":2015,"v":1.80},{"c":"UK","t":2016,"v":1.79},{"c":"UK","t":2017,"v":1.74},{"c":"UK","t":2018,"v":1.68},{"c":"UK","t":2019,"v":1.63},
    {"c":"UK","t":2020,"v":1.56},{"c":"UK","t":2021,"v":1.56},

    {"c":"USA","t":1960,"v":3.65},{"c":"USA","t":1961,"v":3.62},{"c":"USA","t":1962,"v":3.46},{"c":"USA","t":1963,"v":3.32},{"c":"USA","t":1964,"v":3.19},{"c":"USA","t":1965,"v":2.91},{"c":"USA","t":1966,"v":2.72},{"c":"USA","t":1967,"v":2.56},{"c":"USA","t":1968,"v":2.46},{"c":"USA","t":1969,"v":2.46},
    {"c":"USA","t":1970,"v":2.48},{"c":"USA","t":1971,"v":2.27},{"c":"USA","t":1972,"v":2.01},{"c":"USA","t":1973,"v":1.88},{"c":"USA","t":1974,"v":1.84},{"c":"USA","t":1975,"v":1.77},{"c":"USA","t":1976,"v":1.74},{"c":"USA","t":1977,"v":1.79},{"c":"USA","t":1978,"v":1.76},{"c":"USA","t":1979,"v":1.81},
    {"c":"USA","t":1980,"v":1.84},{"c":"USA","t":1981,"v":1.81},{"c":"USA","t":1982,"v":1.83},{"c":"USA","t":1983,"v":1.80},{"c":"USA","t":1984,"v":1.81},{"c":"USA","t":1985,"v":1.84},{"c":"USA","t":1986,"v":1.84},{"c":"USA","t":1987,"v":1.87},{"c":"USA","t":1988,"v":1.93},{"c":"USA","t":1989,"v":2.01},
    {"c":"USA","t":1990,"v":2.08},{"c":"USA","t":1991,"v":2.06},{"c":"USA","t":1992,"v":2.05},{"c":"USA","t":1993,"v":2.02},{"c":"USA","t":1994,"v":2.00},{"c":"USA","t":1995,"v":1.98},{"c":"USA","t":1996,"v":1.98},{"c":"USA","t":1997,"v":1.97},{"c":"USA","t":1998,"v":2.00},{"c":"USA","t":1999,"v":2.01},
    {"c":"USA","t":2000,"v":2.06},{"c":"USA","t":2001,"v":2.03},{"c":"USA","t":2002,"v":2.02},{"c":"USA","t":2003,"v":2.05},{"c":"USA","t":2004,"v":2.05},{"c":"USA","t":2005,"v":2.06},{"c":"USA","t":2006,"v":2.11},{"c":"USA","t":2007,"v":2.12},{"c":"USA","t":2008,"v":2.07},{"c":"USA","t":2009,"v":2.00},
    {"c":"USA","t":2010,"v":1.93},{"c":"USA","t":2011,"v":1.89},{"c":"USA","t":2012,"v":1.88},{"c":"USA","t":2013,"v":1.86},{"c":"USA","t":2014,"v":1.86},{"c":"USA","t":2015,"v":1.84},{"c":"USA","t":2016,"v":1.82},{"c":"USA","t":2017,"v":1.77},{"c":"USA","t":2018,"v":1.73},{"c":"USA","t":2019,"v":1.71},
    {"c":"USA","t":2020,"v":1.64},{"c":"USA","t":2021,"v":1.66},

    {"c":"OECD","t":1960,"v":3.34},{"c":"OECD","t":1961,"v":3.32},{"c":"OECD","t":1962,"v":3.30},{"c":"OECD","t":1963,"v":3.30},{"c":"OECD","t":1964,"v":3.27},{"c":"OECD","t":1965,"v":3.21},{"c":"OECD","t":1966,"v":3.15},{"c":"OECD","t":1967,"v":3.09},{"c":"OECD","t":1968,"v":3.04},{"c":"OECD","t":1969,"v":3.00},
    {"c":"OECD","t":1970,"v":2.91},{"c":"OECD","t":1971,"v":2.83},{"c":"OECD","t":1972,"v":2.74},{"c":"OECD","t":1973,"v":2.65},{"c":"OECD","t":1974,"v":2.61},{"c":"OECD","t":1975,"v":2.59},{"c":"OECD","t":1976,"v":2.56},{"c":"OECD","t":1977,"v":2.50},{"c":"OECD","t":1978,"v":2.38},{"c":"OECD","t":1979,"v":2.31},
    {"c":"OECD","t":1980,"v":2.26},{"c":"OECD","t":1981,"v":2.23},{"c":"OECD","t":1982,"v":2.20},{"c":"OECD","t":1983,"v":2.14},{"c":"OECD","t":1984,"v":2.09},{"c":"OECD","t":1985,"v":2.05},{"c":"OECD","t":1986,"v":2.01},{"c":"OECD","t":1987,"v":1.98},{"c":"OECD","t":1988,"v":1.97},{"c":"OECD","t":1989,"v":1.95},
    {"c":"OECD","t":1990,"v":1.96},{"c":"OECD","t":1991,"v":1.91},{"c":"OECD","t":1992,"v":1.88},{"c":"OECD","t":1993,"v":1.84},{"c":"OECD","t":1994,"v":1.81},{"c":"OECD","t":1995,"v":1.77},{"c":"OECD","t":1996,"v":1.75},{"c":"OECD","t":1997,"v":1.73},{"c":"OECD","t":1998,"v":1.70},{"c":"OECD","t":1999,"v":1.69},
    {"c":"OECD","t":2000,"v":1.70},{"c":"OECD","t":2001,"v":1.67},{"c":"OECD","t":2002,"v":1.65},{"c":"OECD","t":2003,"v":1.66},{"c":"OECD","t":2004,"v":1.67},{"c":"OECD","t":2005,"v":1.68},{"c":"OECD","t":2006,"v":1.71},{"c":"OECD","t":2007,"v":1.74},{"c":"OECD","t":2008,"v":1.77},{"c":"OECD","t":2009,"v":1.75},
    {"c":"OECD","t":2010,"v":1.75},{"c":"OECD","t":2011,"v":1.72},{"c":"OECD","t":2012,"v":1.72},{"c":"OECD","t":2013,"v":1.69},{"c":"OECD","t":2014,"v":1.70},{"c":"OECD","t":2015,"v":1.70},{"c":"OECD","t":2016,"v":1.68},{"c":"OECD","t":2017,"v":1.66},{"c":"OECD","t":2018,"v":1.63},{"c":"OECD","t":2019,"v":1.61},
    {"c":"OECD","t":2020,"v":1.58},{"c":"OECD","t":2021,"v":1.60}
  ]},
  "layer": [
    {
      "data": {"values": [{"band": "replacement level"}]},
      "mark": {"type": "rect", "color": "#1f77b4", "opacity": 0.15},
      "encoding": {
        "y": {
          "datum": 2.1, "type": "quantitative", "title": "Children",
          "scale": {"domain": [0.8, 3.5], "nice": false, "zero": false},
          "axis": {
            "values": [0.8,0.9,1.0,1.1,1.2,1.3,1.4,1.5,1.6,1.7,1.8,1.9,2.0,2.1,2.2,2.3,2.4,2.5,2.6,2.7,2.8,2.9,3.0,3.1,3.2,3.3,3.4,3.5],
            "labelExpr": "abs(datum.value * 2 - round(datum.value * 2)) < 0.01 ? format(datum.value, '.1f') : ''",
            "labelFontSize": 8, "labelOverlap": false, "labelPadding": 3,
            "tickSize": 3, "domain": false,
            "titleFontSize": 8.5, "titleFontWeight": "normal", "titlePadding": 6,
            "grid": true,
            "gridColor": {"condition": {"test": "abs(datum.value * 2 - round(datum.value * 2)) < 0.01", "value": "#a8a8a8"}, "value": "#cfcfcf"},
            "gridDash": {"condition": {"test": "abs(datum.value * 2 - round(datum.value * 2)) < 0.01", "value": []}, "value": [3, 2]},
            "gridWidth": {"condition": {"test": "abs(datum.value * 2 - round(datum.value * 2)) < 0.01", "value": 1}, "value": 0.7}
          }
        },
        "y2": {"datum": 0.8}
      }
    },
    {
      "mark": {"type": "line", "strokeWidth": 1.3, "clip": true},
      "encoding": {
        "x": {
          "field": "t", "type": "quantitative", "title": null,
          "scale": {"domain": [1959.5, 2021.4], "nice": false, "zero": false},
          "axis": {
            "values": [1960,1961,1962,1963,1964,1965,1966,1967,1968,1969,1970,1971,1972,1973,1974,1975,1976,1977,1978,1979,1980,1981,1982,1983,1984,1985,1986,1987,1988,1989,1990,1991,1992,1993,1994,1995,1996,1997,1998,1999,2000,2001,2002,2003,2004,2005,2006,2007,2008,2009,2010,2011,2012,2013,2014,2015,2016,2017,2018,2019,2020,2021],
            "format": "d",
            "labelExpr": "datum.value % 2 === 0 ? datum.label : ''",
            "labelAngle": -45, "labelAlign": "right", "labelBaseline": "middle",
            "labelOffset": 6, "labelPadding": 3, "labelFontSize": 7, "labelOverlap": false,
            "tickSize": 3, "grid": false, "domain": false
          }
        },
        "y": {
          "field": "v", "type": "quantitative", "title": "Children",
          "scale": {"domain": [0.8, 3.5], "nice": false, "zero": false},
          "axis": {
            "values": [0.8,0.9,1.0,1.1,1.2,1.3,1.4,1.5,1.6,1.7,1.8,1.9,2.0,2.1,2.2,2.3,2.4,2.5,2.6,2.7,2.8,2.9,3.0,3.1,3.2,3.3,3.4,3.5],
            "labelExpr": "abs(datum.value * 2 - round(datum.value * 2)) < 0.01 ? format(datum.value, '.1f') : ''",
            "labelFontSize": 8, "labelOverlap": false, "labelPadding": 3,
            "tickSize": 3, "domain": false,
            "titleFontSize": 8.5, "titleFontWeight": "normal", "titlePadding": 6,
            "grid": true,
            "gridColor": {"condition": {"test": "abs(datum.value * 2 - round(datum.value * 2)) < 0.01", "value": "#a8a8a8"}, "value": "#cfcfcf"},
            "gridDash": {"condition": {"test": "abs(datum.value * 2 - round(datum.value * 2)) < 0.01", "value": []}, "value": [3, 2]},
            "gridWidth": {"condition": {"test": "abs(datum.value * 2 - round(datum.value * 2)) < 0.01", "value": 1}, "value": 0.7}
          }
        },
        "color": {
          "field": "c", "type": "nominal",
          "scale": {
            "domain": ["Australia","Austria","Belgium","Canada","Chile","Czech","Denmark","Finland","France","Germany","Greece","Hungary","Iceland","Ireland","Israel","Italy","Japan","Korea","Mexico","Netherlands","New Zealand","Norway","Poland","Portugal","Spain","Sweden","Swiss","UK","USA","OECD"],
            "range": ["#1f77b4","#1f77b4","#aec7e8","#aec7e8","#ff7f0e","#ff7f0e","#ffbb78","#ffbb78","#2ca02c","#2ca02c","#98df8a","#98df8a","#d62728","#d62728","#ff9896","#ff9896","#9467bd","#9467bd","#c5b0d5","#c5b0d5","#8c564b","#8c564b","#c49c94","#c49c94","#e377c2","#e377c2","#f7b6d2","#f7b6d2","#7f7f7f","#7f7f7f"]
          },
          "legend": {"title": null, "orient": "none", "legendX": 41, "legendY": 394, "columns": 10, "gridAlign": "each", "symbolType": "stroke", "symbolSize": 144, "symbolStrokeWidth": 1.3, "labelFontSize": 7, "labelFont": "Noto Sans", "labelColor": "#333", "labelOffset": 6, "columnPadding": 4, "rowPadding": 0, "padding": 3, "strokeColor": "#cccccc", "fillColor": "white", "cornerRadius": 2}
        },
        "strokeDash": {
          "field": "c", "type": "nominal",
          "scale": {
            "domain": ["Australia","Austria","Belgium","Canada","Chile","Czech","Denmark","Finland","France","Germany","Greece","Hungary","Iceland","Ireland","Israel","Italy","Japan","Korea","Mexico","Netherlands","New Zealand","Norway","Poland","Portugal","Spain","Sweden","Swiss","UK","USA","OECD"],
            "range": [[1,0],[4,2],[1,0],[4,2],[1,0],[4,2],[1,0],[4,2],[1,0],[4,2],[1,0],[4,2],[1,0],[4,2],[1,0],[4,2],[1,0],[4,2],[1,0],[4,2],[1,0],[4,2],[1,0],[4,2],[1,0],[4,2],[1,0],[4,2],[1,0],[4,2]]
          },
          "legend": {"title": null, "orient": "none", "legendX": 41, "legendY": 394, "columns": 10, "gridAlign": "each", "symbolType": "stroke", "symbolSize": 144, "symbolStrokeWidth": 1.3, "labelFontSize": 7, "labelFont": "Noto Sans", "labelColor": "#333", "labelOffset": 6, "columnPadding": 4, "rowPadding": 0, "padding": 3, "strokeColor": "#cccccc", "fillColor": "white", "cornerRadius": 2}
        }
      }
    }
  ]
}
